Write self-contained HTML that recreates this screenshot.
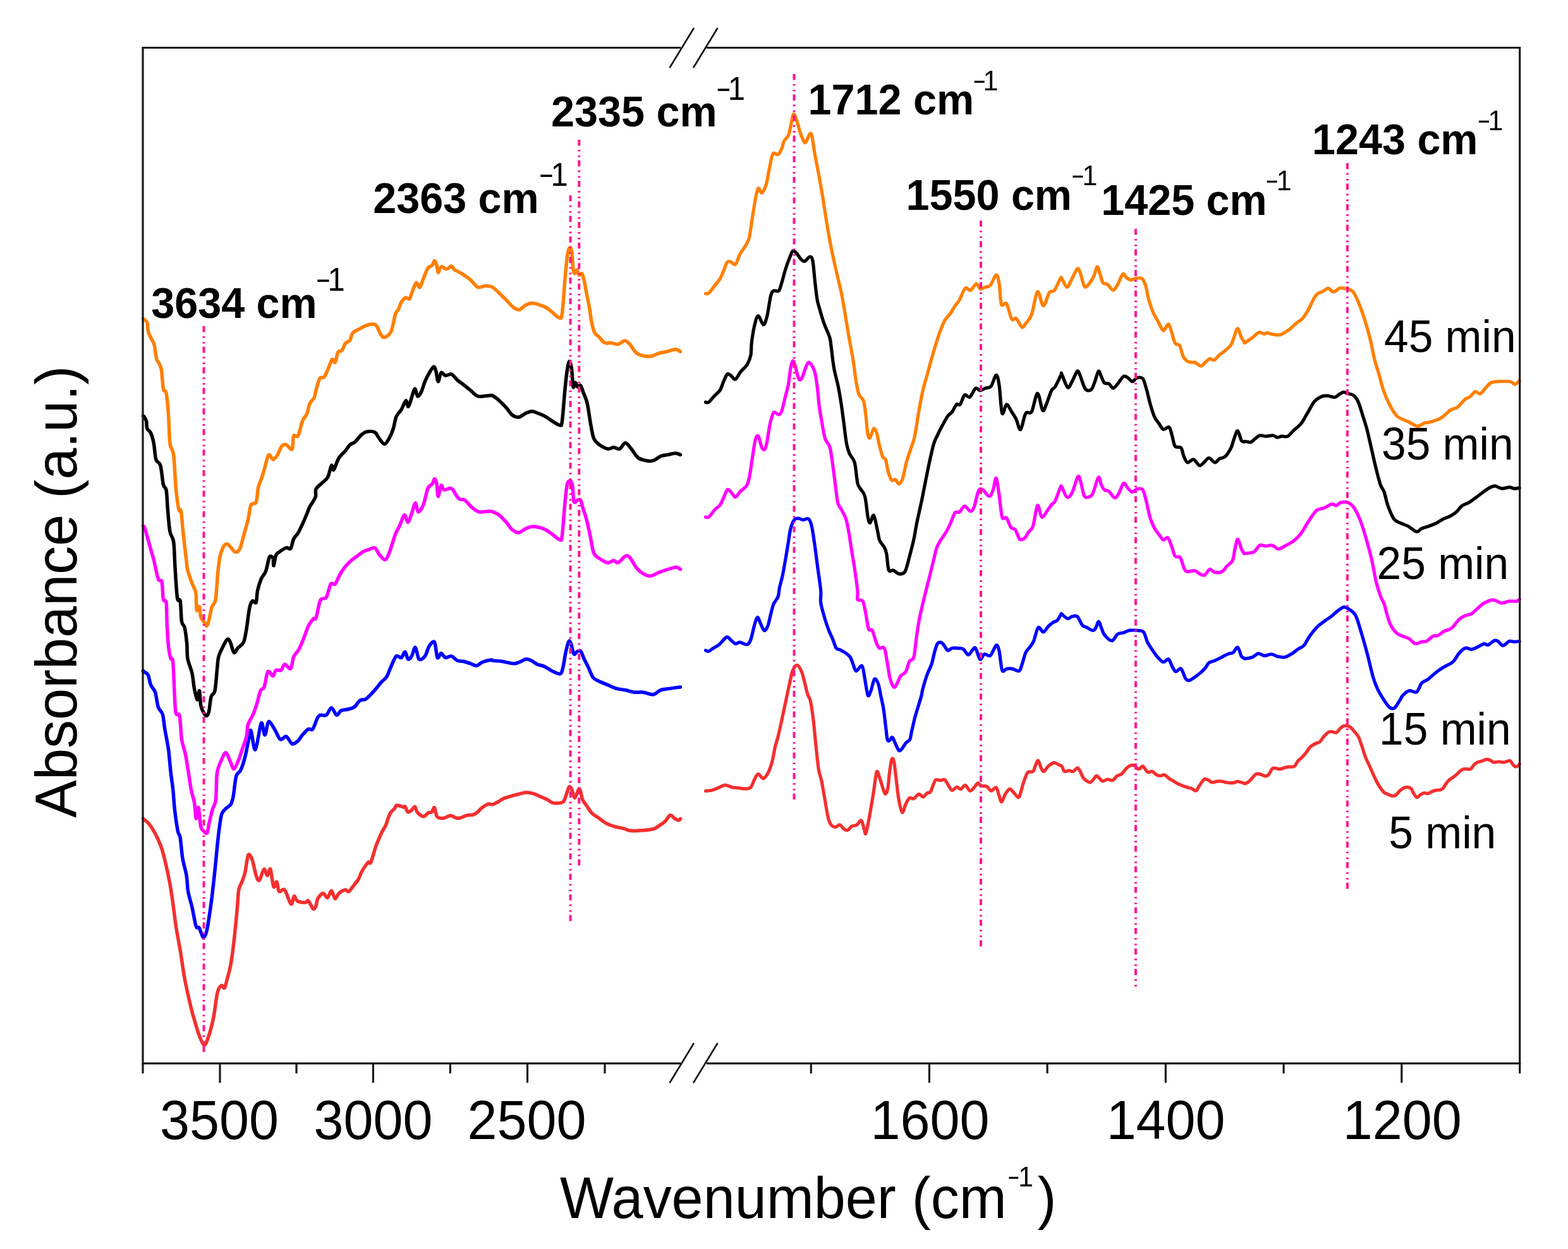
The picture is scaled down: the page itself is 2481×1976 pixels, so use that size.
<!DOCTYPE html><html><head><meta charset="utf-8"><style>html,body{margin:0;padding:0;background:#fefefe;overflow:hidden;}svg{display:block}</style></head><body>
<svg width="2481" height="1976" viewBox="0 0 2481 1976">
<rect width="2481" height="1976" fill="#fefefe"/>
<path d="M226.5,1295.0 C226.7,1295.2 226.1,1295.1 227.5,1296.3 C228.9,1297.5 232.2,1299.2 235.0,1302.6 C237.8,1306.0 241.8,1311.6 245.0,1317.6 C248.2,1323.6 252.5,1333.0 255.1,1340.2 C257.7,1347.4 259.1,1353.5 261.3,1362.7 C263.5,1371.9 266.8,1386.9 268.8,1397.7 C270.8,1408.5 272.2,1419.1 273.8,1430.3 C275.4,1441.5 277.0,1456.3 278.8,1467.9 C280.6,1479.5 282.9,1489.7 285.1,1502.9 C287.3,1516.1 289.8,1535.7 292.6,1550.5 C295.4,1565.3 300.0,1584.8 302.6,1595.6 C305.2,1606.4 306.9,1611.3 308.9,1618.1 C310.9,1624.9 313.0,1632.5 315.2,1638.1 C317.4,1643.7 320.5,1652.4 322.7,1653.2 C324.9,1654.0 326.5,1649.9 328.9,1643.1 C331.3,1636.3 335.3,1622.2 337.7,1610.6 C340.1,1599.0 342.0,1578.7 344.0,1570.5 C346.0,1562.3 348.4,1560.5 350.2,1559.3 C352.0,1558.1 353.8,1564.4 355.2,1563.0 C356.6,1561.6 357.4,1556.5 359.0,1550.5 C360.6,1544.5 363.4,1535.5 365.2,1525.5 C367.0,1515.5 368.7,1501.9 370.3,1487.9 C371.9,1473.9 374.1,1450.6 375.3,1437.8 C376.5,1425.0 376.6,1414.6 377.8,1407.8 C379.0,1401.0 381.2,1399.6 382.8,1395.2 C384.4,1390.8 386.2,1387.0 387.8,1380.2 C389.4,1373.4 391.0,1355.9 392.8,1352.7 C394.6,1349.5 397.0,1355.0 399.0,1360.2 C401.0,1365.4 403.5,1380.0 405.3,1385.2 C407.1,1390.4 408.3,1394.3 410.3,1392.7 C412.3,1391.1 415.8,1376.4 417.8,1375.2 C419.8,1374.0 421.2,1385.2 422.8,1385.2 C424.4,1385.2 426.2,1372.4 427.8,1375.2 C429.4,1378.0 431.3,1399.6 432.9,1402.8 C434.5,1406.0 436.5,1394.0 437.9,1395.2 C439.3,1396.4 439.6,1408.3 441.6,1410.3 C443.6,1412.3 447.4,1404.6 450.4,1407.8 C453.4,1411.0 458.0,1428.7 460.4,1430.3 C462.8,1431.9 463.8,1418.6 465.4,1417.8 C467.0,1417.0 467.6,1423.7 470.4,1425.3 C473.2,1426.9 480.1,1427.8 482.9,1427.8 C485.7,1427.8 486.0,1423.7 488.0,1425.3 C490.0,1426.9 493.6,1436.6 495.5,1437.8 C497.4,1439.0 498.8,1435.5 500.0,1432.9 C501.2,1430.3 501.0,1424.8 502.8,1421.7 C504.6,1418.6 508.7,1413.5 511.2,1413.3 C513.7,1413.1 516.1,1421.0 518.2,1420.3 C520.3,1419.6 522.6,1409.0 524.5,1409.2 C526.4,1409.4 528.2,1421.0 530.1,1421.7 C532.0,1422.4 533.7,1415.5 536.3,1413.3 C538.9,1411.1 543.6,1408.2 546.1,1407.8 C548.6,1407.4 549.7,1411.5 551.7,1410.6 C553.7,1409.7 556.2,1405.3 558.7,1402.2 C561.2,1399.1 564.9,1394.8 567.1,1391.0 C569.3,1387.2 570.2,1382.7 572.7,1378.4 C575.2,1374.1 580.3,1366.6 582.5,1364.4 C584.7,1362.2 584.7,1368.6 586.7,1364.4 C588.7,1360.2 592.4,1345.3 595.1,1337.9 C597.8,1330.5 601.0,1323.5 603.4,1318.3 C605.8,1313.1 608.6,1309.7 610.4,1305.7 C612.2,1301.7 613.3,1296.5 614.6,1293.1 C615.9,1289.7 617.2,1286.9 618.8,1284.7 C620.4,1282.5 623.1,1280.8 624.4,1279.1 C625.7,1277.4 625.9,1274.9 627.2,1274.2 C628.5,1273.5 631.0,1274.6 632.8,1275.0 C634.6,1275.4 637.1,1276.8 638.4,1277.0 C639.7,1277.2 640.1,1275.1 641.2,1276.3 C642.3,1277.5 643.8,1283.8 645.4,1284.7 C647.0,1285.6 649.2,1283.2 651.0,1281.9 C652.8,1280.6 655.1,1275.9 656.6,1276.3 C658.1,1276.7 658.0,1282.2 660.1,1284.7 C662.2,1287.2 667.1,1291.5 669.9,1291.7 C672.7,1291.9 675.4,1287.2 677.5,1286.1 C679.6,1285.0 681.5,1286.0 683.1,1284.7 C684.7,1283.4 686.0,1276.6 687.3,1277.7 C688.6,1278.8 689.3,1289.0 691.5,1291.7 C693.7,1294.4 697.9,1294.7 701.3,1294.5 C704.7,1294.3 709.6,1290.5 712.5,1290.3 C715.4,1290.1 717.3,1292.4 719.5,1293.1 C721.7,1293.8 723.6,1294.9 726.5,1294.5 C729.4,1294.1 734.1,1291.2 737.7,1290.3 C741.3,1289.4 745.9,1289.8 748.8,1288.9 C751.7,1288.0 753.6,1286.5 755.8,1284.7 C758.0,1282.9 760.1,1279.7 762.8,1277.7 C765.5,1275.7 769.8,1273.0 772.6,1272.2 C775.4,1271.4 777.5,1273.2 780.0,1272.6 C782.5,1272.0 785.6,1269.9 788.2,1268.5 C790.8,1267.1 793.4,1264.9 796.3,1263.6 C799.2,1262.3 802.7,1261.3 806.1,1260.3 C809.5,1259.3 813.3,1258.1 817.5,1257.1 C821.7,1256.1 828.0,1254.1 832.2,1253.8 C836.4,1253.5 840.0,1254.4 843.6,1255.4 C847.2,1256.4 851.4,1258.7 855.0,1260.3 C858.6,1261.9 863.3,1263.6 866.4,1265.2 C869.5,1266.8 871.2,1269.3 874.6,1270.1 C878.0,1270.9 884.7,1270.6 887.6,1270.1 C890.5,1269.6 891.1,1269.2 892.5,1266.8 C893.9,1264.4 895.3,1258.9 896.6,1255.4 C897.9,1251.9 899.4,1245.8 900.7,1244.8 C902.0,1243.8 903.4,1246.1 904.7,1248.9 C906.0,1251.7 907.6,1260.7 908.8,1262.0 C910.0,1263.3 910.9,1259.3 912.1,1257.1 C913.3,1254.9 915.1,1248.9 916.1,1248.1 C917.1,1247.3 917.7,1249.5 918.6,1252.2 C919.5,1254.9 920.2,1261.6 921.8,1265.2 C923.4,1268.8 926.0,1271.6 928.4,1275.0 C930.8,1278.4 933.4,1283.3 936.5,1286.4 C939.6,1289.5 944.3,1292.0 947.9,1294.6 C951.5,1297.2 955.4,1300.6 959.3,1302.7 C963.2,1304.8 968.0,1306.3 972.4,1307.6 C976.8,1308.9 983.2,1309.9 987.1,1310.9 C991.0,1311.9 992.9,1313.6 996.8,1314.1 C1000.7,1314.6 1005.8,1314.5 1011.5,1314.1 C1017.2,1313.7 1028.0,1312.7 1032.7,1311.7 C1037.4,1310.7 1037.8,1309.6 1040.9,1307.6 C1044.0,1305.6 1049.2,1302.4 1052.3,1299.5 C1055.4,1296.6 1058.0,1290.5 1060.4,1289.7 C1062.8,1288.9 1064.9,1293.3 1067.0,1294.6 C1069.1,1295.9 1072.0,1297.7 1073.5,1297.8 C1075.0,1297.9 1076.0,1295.9 1076.5,1295.5" fill="none" stroke="#f42f2f" stroke-width="5.5" stroke-linejoin="round" stroke-linecap="round"/>
<path d="M1116.5,1251.4 C1118.1,1251.2 1123.2,1251.0 1126.3,1250.3 C1129.4,1249.6 1132.2,1248.1 1135.6,1246.8 C1139.0,1245.5 1143.6,1242.3 1147.3,1242.1 C1151.0,1241.9 1155.2,1244.8 1158.9,1245.6 C1162.6,1246.4 1167.2,1246.4 1170.6,1246.8 C1174.0,1247.2 1177.1,1248.1 1179.9,1247.9 C1182.7,1247.7 1185.8,1248.0 1188.0,1245.6 C1190.2,1243.2 1192.0,1236.2 1193.9,1232.8 C1195.8,1229.4 1197.5,1224.8 1199.7,1224.6 C1201.9,1224.4 1205.2,1232.1 1207.8,1231.6 C1210.4,1231.1 1213.8,1225.5 1216.0,1221.2 C1218.2,1216.9 1220.1,1211.1 1221.8,1204.8 C1223.5,1198.5 1225.0,1187.9 1226.5,1181.6 C1228.0,1175.3 1229.4,1172.0 1231.1,1165.3 C1232.8,1158.6 1235.0,1148.2 1236.9,1139.6 C1238.8,1131.0 1240.7,1121.4 1242.8,1111.7 C1244.9,1102.0 1247.9,1087.3 1249.8,1079.1 C1251.7,1070.9 1252.5,1064.7 1254.4,1060.4 C1256.3,1056.1 1259.2,1051.9 1261.4,1052.3 C1263.6,1052.7 1266.5,1058.5 1268.4,1062.8 C1270.3,1067.1 1271.5,1073.5 1273.0,1079.1 C1274.5,1084.7 1276.2,1092.9 1277.7,1097.7 C1279.2,1102.5 1280.9,1102.7 1282.4,1109.4 C1283.9,1116.1 1285.7,1129.2 1287.0,1139.6 C1288.3,1150.0 1289.2,1162.3 1290.5,1174.6 C1291.8,1186.9 1293.7,1206.8 1295.2,1216.5 C1296.7,1226.2 1298.3,1228.0 1299.8,1235.1 C1301.3,1242.2 1302.8,1251.5 1304.5,1260.8 C1306.2,1270.1 1308.6,1286.3 1310.3,1293.4 C1312.0,1300.5 1313.1,1302.6 1315.0,1305.0 C1316.9,1307.4 1319.8,1308.5 1322.0,1308.5 C1324.2,1308.5 1326.7,1304.4 1328.9,1305.0 C1331.1,1305.6 1333.8,1310.7 1335.9,1312.0 C1338.0,1313.3 1339.9,1314.0 1341.8,1313.2 C1343.7,1312.4 1345.4,1308.6 1347.6,1307.3 C1349.8,1306.0 1353.3,1306.5 1355.7,1305.0 C1358.1,1303.5 1360.8,1296.9 1362.7,1298.0 C1364.6,1299.1 1366.3,1308.6 1367.4,1312.0 C1368.5,1315.4 1368.8,1320.1 1369.7,1319.0 C1370.6,1317.9 1371.9,1311.3 1373.2,1305.0 C1374.5,1298.7 1376.4,1288.0 1377.9,1279.4 C1379.4,1270.8 1381.0,1260.7 1382.5,1251.4 C1384.0,1242.1 1385.7,1224.5 1387.2,1221.2 C1388.7,1217.9 1390.1,1226.0 1391.8,1230.5 C1393.5,1235.0 1396.2,1245.0 1397.7,1249.1 C1399.2,1253.2 1400.0,1256.5 1401.2,1256.1 C1402.4,1255.7 1403.9,1252.2 1404.9,1246.8 C1405.9,1241.4 1406.5,1229.6 1407.5,1222.3 C1408.5,1215.0 1409.9,1204.1 1411.0,1201.3 C1412.1,1198.5 1413.4,1199.8 1414.5,1204.8 C1415.6,1209.8 1416.8,1223.0 1418.0,1232.8 C1419.2,1242.6 1420.8,1257.6 1422.3,1266.0 C1423.8,1274.4 1425.9,1284.1 1427.6,1285.2 C1429.3,1286.3 1431.0,1276.6 1432.8,1273.0 C1434.6,1269.4 1436.8,1264.0 1438.9,1262.5 C1441.0,1261.0 1443.5,1264.4 1445.9,1263.4 C1448.3,1262.4 1451.4,1256.8 1453.8,1256.4 C1456.2,1256.0 1458.7,1261.0 1460.8,1260.7 C1462.9,1260.4 1465.1,1255.8 1466.9,1254.6 C1468.7,1253.4 1470.4,1255.3 1472.1,1252.9 C1473.8,1250.5 1476.0,1242.9 1477.4,1239.8 C1478.8,1236.7 1479.2,1234.5 1480.9,1233.7 C1482.6,1232.9 1485.6,1234.5 1487.8,1234.5 C1490.0,1234.5 1492.8,1232.6 1494.8,1233.7 C1496.8,1234.8 1498.3,1238.8 1500.1,1241.5 C1501.9,1244.2 1504.0,1249.7 1506.2,1250.3 C1508.4,1250.9 1511.9,1245.3 1514.1,1245.0 C1516.3,1244.7 1518.1,1248.9 1520.2,1248.5 C1522.3,1248.1 1524.8,1242.0 1527.2,1242.4 C1529.6,1242.8 1532.6,1250.7 1535.0,1251.1 C1537.4,1251.5 1540.0,1247.0 1542.0,1245.0 C1544.0,1243.0 1545.6,1239.2 1547.3,1238.9 C1549.0,1238.6 1550.3,1242.5 1552.5,1243.3 C1554.7,1244.1 1558.7,1242.9 1561.2,1244.1 C1563.7,1245.3 1565.8,1250.8 1568.2,1251.1 C1570.6,1251.4 1574.1,1244.9 1576.1,1245.9 C1578.1,1246.9 1579.0,1253.7 1580.4,1257.3 C1581.8,1260.9 1583.2,1268.6 1584.8,1268.6 C1586.4,1268.6 1588.1,1260.5 1590.1,1257.3 C1592.1,1254.1 1594.9,1249.1 1597.1,1248.5 C1599.3,1247.9 1601.8,1251.7 1604.0,1253.8 C1606.2,1255.9 1609.3,1261.3 1611.0,1261.6 C1612.7,1261.9 1613.2,1259.0 1614.5,1255.5 C1615.8,1252.0 1617.1,1245.1 1618.9,1239.8 C1620.7,1234.5 1623.4,1225.4 1625.9,1222.3 C1628.4,1219.2 1632.6,1222.3 1634.6,1220.6 C1636.6,1218.9 1636.8,1214.6 1638.1,1211.8 C1639.4,1209.0 1641.1,1202.8 1642.5,1203.1 C1643.9,1203.4 1645.4,1210.8 1646.8,1213.6 C1648.2,1216.4 1649.2,1220.9 1651.2,1220.6 C1653.2,1220.3 1656.4,1214.0 1659.1,1211.8 C1661.8,1209.6 1665.1,1206.9 1667.8,1206.6 C1670.5,1206.3 1673.7,1209.2 1675.7,1210.1 C1677.7,1211.0 1678.6,1210.5 1680.0,1212.1 C1681.4,1213.7 1682.4,1219.3 1684.2,1220.4 C1686.0,1221.5 1688.9,1219.1 1691.1,1219.1 C1693.3,1219.1 1695.9,1221.1 1698.1,1220.4 C1700.3,1219.7 1703.2,1214.9 1705.0,1214.9 C1706.8,1214.9 1707.6,1217.7 1709.2,1220.4 C1710.8,1223.1 1712.4,1228.8 1714.8,1231.6 C1717.2,1234.4 1722.1,1237.6 1724.5,1237.8 C1726.9,1238.0 1728.4,1234.7 1730.1,1233.0 C1731.8,1231.3 1733.4,1227.6 1735.0,1227.4 C1736.6,1227.2 1738.2,1230.3 1739.8,1231.6 C1741.4,1232.9 1742.7,1235.6 1744.7,1235.8 C1746.7,1236.0 1749.8,1233.2 1752.4,1233.0 C1755.0,1232.8 1758.3,1235.3 1760.7,1234.4 C1763.1,1233.5 1765.5,1229.0 1767.7,1227.4 C1769.9,1225.8 1772.2,1226.6 1774.6,1224.6 C1777.0,1222.6 1780.6,1217.1 1783.0,1214.9 C1785.4,1212.7 1787.9,1211.3 1789.9,1210.7 C1791.9,1210.1 1793.9,1210.5 1795.5,1211.4 C1797.1,1212.3 1798.4,1215.6 1799.7,1216.3 C1801.0,1217.0 1802.5,1216.3 1803.8,1215.6 C1805.1,1214.9 1806.7,1211.9 1808.0,1212.1 C1809.3,1212.3 1810.9,1215.4 1812.2,1217.0 C1813.5,1218.6 1814.6,1221.3 1816.4,1221.8 C1818.2,1222.3 1821.1,1219.7 1823.3,1220.4 C1825.5,1221.1 1828.3,1224.9 1830.3,1226.0 C1832.3,1227.1 1833.8,1227.4 1835.8,1227.4 C1837.8,1227.4 1840.6,1225.3 1842.8,1226.0 C1845.0,1226.7 1847.6,1230.0 1849.8,1231.6 C1852.0,1233.2 1854.5,1234.5 1856.7,1235.8 C1858.9,1237.1 1861.3,1238.7 1863.7,1239.9 C1866.1,1241.1 1869.3,1242.4 1872.0,1243.4 C1874.7,1244.4 1878.2,1245.5 1880.4,1246.2 C1882.6,1246.9 1884.0,1246.8 1885.9,1247.6 C1887.8,1248.4 1890.4,1251.7 1892.2,1251.1 C1894.0,1250.5 1895.4,1246.5 1897.1,1244.1 C1898.8,1241.7 1901.0,1237.7 1902.6,1235.8 C1904.2,1233.9 1905.2,1232.5 1906.8,1232.3 C1908.4,1232.1 1910.6,1233.5 1912.4,1234.4 C1914.2,1235.3 1915.9,1237.5 1917.9,1237.8 C1919.9,1238.1 1922.9,1236.7 1924.9,1236.4 C1926.9,1236.1 1928.5,1235.7 1930.5,1235.8 C1932.5,1235.9 1935.2,1236.7 1937.4,1237.1 C1939.6,1237.5 1942.2,1238.3 1944.4,1238.5 C1946.6,1238.7 1949.1,1238.8 1951.3,1238.5 C1953.5,1238.2 1955.9,1236.4 1958.3,1236.4 C1960.7,1236.4 1964.7,1238.0 1966.6,1238.5 C1968.5,1239.0 1968.6,1240.0 1970.0,1239.7 C1971.4,1239.4 1973.8,1238.2 1975.6,1236.9 C1977.4,1235.6 1979.3,1233.2 1981.1,1231.3 C1982.9,1229.4 1984.9,1226.2 1986.7,1225.1 C1988.5,1224.0 1989.9,1224.0 1992.3,1224.4 C1994.7,1224.8 1999.6,1227.7 2002.0,1227.8 C2004.4,1227.9 2005.8,1227.0 2007.6,1225.1 C2009.4,1223.2 2011.5,1217.6 2013.1,1216.0 C2014.7,1214.4 2015.3,1215.2 2017.3,1215.3 C2019.3,1215.4 2023.3,1216.8 2025.7,1216.7 C2028.1,1216.6 2030.4,1215.2 2032.6,1214.6 C2034.8,1214.0 2037.2,1213.5 2039.6,1213.2 C2042.0,1212.9 2045.7,1213.9 2047.9,1212.5 C2050.1,1211.1 2051.5,1206.5 2053.5,1204.2 C2055.5,1201.9 2058.2,1200.2 2060.4,1197.9 C2062.6,1195.6 2065.4,1192.2 2067.4,1189.6 C2069.4,1187.0 2070.8,1184.0 2073.0,1181.9 C2075.2,1179.8 2078.9,1177.7 2081.3,1176.4 C2083.7,1175.1 2086.1,1175.5 2088.3,1173.6 C2090.5,1171.7 2093.0,1166.9 2095.2,1164.5 C2097.4,1162.1 2100.2,1159.4 2102.2,1158.3 C2104.2,1157.2 2105.8,1157.5 2107.8,1157.6 C2109.8,1157.7 2112.7,1159.8 2114.7,1159.0 C2116.7,1158.2 2118.5,1154.4 2120.3,1152.7 C2122.1,1151.0 2123.9,1149.2 2125.8,1148.5 C2127.7,1147.8 2130.3,1148.2 2132.1,1148.5 C2133.9,1148.8 2135.3,1149.3 2137.0,1150.6 C2138.7,1151.9 2140.5,1154.5 2142.5,1156.9 C2144.5,1159.3 2147.5,1162.0 2149.5,1165.9 C2151.5,1169.8 2153.3,1176.1 2155.1,1181.2 C2156.9,1186.3 2158.6,1192.8 2160.6,1197.9 C2162.6,1203.0 2165.4,1208.3 2167.6,1213.2 C2169.8,1218.1 2172.3,1223.8 2174.5,1228.5 C2176.7,1233.2 2179.1,1238.4 2181.5,1242.4 C2183.9,1246.4 2187.5,1251.3 2189.8,1253.6 C2192.1,1255.9 2194.1,1255.6 2196.1,1256.5 C2198.1,1257.4 2200.2,1258.8 2202.2,1259.1 C2204.2,1259.4 2206.4,1259.3 2208.4,1258.1 C2210.4,1256.9 2212.5,1253.2 2214.5,1251.4 C2216.5,1249.6 2218.6,1247.8 2220.6,1246.8 C2222.6,1245.8 2224.7,1245.1 2226.7,1245.3 C2228.7,1245.5 2231.3,1246.3 2232.9,1247.9 C2234.5,1249.5 2235.4,1253.3 2236.9,1255.5 C2238.4,1257.7 2240.4,1261.3 2242.0,1261.6 C2243.6,1261.9 2245.3,1258.7 2247.1,1257.6 C2248.9,1256.5 2251.3,1254.8 2253.3,1254.5 C2255.3,1254.2 2257.4,1255.8 2259.4,1255.5 C2261.4,1255.2 2263.5,1253.2 2265.5,1252.4 C2267.5,1251.6 2269.3,1250.9 2271.6,1250.4 C2273.9,1249.9 2277.8,1250.1 2279.8,1249.4 C2281.8,1248.7 2282.3,1248.3 2283.9,1246.3 C2285.5,1244.3 2288.4,1239.2 2290.0,1237.1 C2291.6,1235.0 2292.5,1234.4 2294.1,1233.1 C2295.7,1231.8 2298.4,1230.3 2300.2,1229.0 C2302.0,1227.7 2303.7,1226.4 2305.3,1224.9 C2306.9,1223.4 2308.8,1221.1 2310.4,1219.8 C2312.0,1218.5 2313.9,1217.2 2315.5,1216.7 C2317.1,1216.2 2318.8,1216.7 2320.6,1216.7 C2322.4,1216.7 2324.9,1217.7 2326.7,1216.7 C2328.5,1215.7 2330.2,1212.2 2331.8,1210.6 C2333.4,1209.0 2334.8,1207.6 2336.9,1206.5 C2339.0,1205.4 2342.7,1204.8 2345.1,1204.0 C2347.5,1203.2 2350.1,1201.6 2352.2,1201.4 C2354.3,1201.2 2356.6,1202.3 2358.4,1203.0 C2360.2,1203.7 2361.4,1205.7 2363.5,1206.0 C2365.6,1206.3 2369.0,1205.0 2371.6,1205.0 C2374.2,1205.0 2377.0,1206.2 2379.8,1206.0 C2382.6,1205.8 2386.9,1203.1 2389.0,1203.5 C2391.1,1203.9 2391.8,1207.1 2393.1,1208.6 C2394.4,1210.1 2395.6,1212.2 2397.1,1212.7 C2398.6,1213.2 2401.1,1212.3 2402.2,1211.6 C2403.3,1210.9 2403.9,1209.1 2404.2,1208.6" fill="none" stroke="#f42f2f" stroke-width="5.2" stroke-linejoin="round" stroke-linecap="round"/>
<path d="M226.5,1061.0 C226.6,1061.3 225.8,1061.6 227.0,1062.6 C228.2,1063.6 232.1,1063.9 234.0,1067.3 C235.9,1070.7 236.7,1079.1 238.6,1083.6 C240.5,1088.1 243.7,1089.6 245.6,1095.2 C247.5,1100.8 248.4,1112.9 250.3,1118.5 C252.2,1124.1 255.6,1124.6 257.3,1130.2 C259.0,1135.8 259.3,1144.6 260.8,1153.5 C262.3,1162.4 265.1,1175.3 266.6,1186.1 C268.1,1196.9 268.9,1210.8 270.1,1221.0 C271.3,1231.2 272.8,1240.6 273.8,1250.0 C274.8,1259.4 275.1,1269.6 276.3,1280.0 C277.5,1290.4 280.0,1307.9 281.4,1315.1 C282.8,1322.3 283.9,1318.3 285.1,1325.1 C286.3,1331.9 287.3,1348.1 288.9,1357.7 C290.5,1367.3 293.7,1376.8 295.1,1385.2 C296.5,1393.6 296.2,1402.3 297.6,1410.3 C299.0,1418.3 301.9,1426.5 303.9,1435.3 C305.9,1444.1 308.4,1460.2 310.2,1465.4 C312.0,1470.6 313.4,1465.1 315.2,1467.9 C317.0,1470.7 319.6,1481.7 321.4,1482.9 C323.2,1484.1 325.0,1479.8 326.4,1475.4 C327.8,1471.0 328.8,1464.1 330.2,1455.3 C331.6,1446.5 333.6,1433.1 335.2,1420.3 C336.8,1407.5 338.6,1390.4 340.2,1375.2 C341.8,1360.0 343.6,1338.7 345.2,1325.1 C346.8,1311.5 348.4,1297.3 350.2,1290.1 C352.0,1282.9 354.1,1282.8 356.5,1280.0 C358.9,1277.2 363.2,1275.7 365.2,1272.5 C367.2,1269.3 367.7,1267.1 369.1,1260.0 C370.5,1252.9 371.8,1234.6 373.7,1228.0 C375.6,1221.4 378.5,1223.5 380.7,1218.7 C382.9,1213.9 385.7,1205.5 387.7,1197.7 C389.7,1189.9 392.0,1176.5 393.5,1169.8 C395.0,1163.1 395.3,1153.2 397.0,1155.8 C398.7,1158.4 401.4,1188.0 404.0,1186.1 C406.6,1184.2 410.9,1147.9 413.3,1144.2 C415.7,1140.5 417.2,1163.2 419.1,1162.8 C421.0,1162.4 422.6,1143.3 425.0,1141.8 C427.4,1140.3 431.3,1149.0 434.3,1153.5 C437.3,1158.0 440.6,1167.9 443.6,1169.8 C446.6,1171.7 449.9,1164.0 452.9,1165.1 C455.9,1166.2 459.2,1175.7 462.2,1176.8 C465.2,1177.9 469.0,1174.3 471.6,1172.1 C474.2,1169.9 475.9,1165.8 478.5,1162.8 C481.1,1159.8 485.3,1155.0 487.9,1153.5 C490.5,1152.0 492.5,1156.3 494.8,1153.5 C497.1,1150.7 500.3,1139.6 502.3,1136.0 C504.3,1132.4 504.8,1132.1 507.0,1131.3 C509.2,1130.5 513.5,1133.2 516.3,1131.3 C519.1,1129.4 521.9,1119.7 524.5,1119.7 C527.1,1119.7 530.2,1130.6 532.6,1131.3 C535.0,1132.0 536.6,1125.8 539.6,1124.3 C542.6,1122.8 547.8,1122.9 551.2,1122.0 C554.6,1121.1 557.6,1120.7 560.6,1118.5 C563.6,1116.3 566.9,1110.0 569.9,1108.0 C572.9,1106.0 575.5,1108.3 579.2,1105.7 C582.9,1103.1 589.5,1095.8 593.2,1091.7 C596.9,1087.6 599.5,1083.5 602.5,1080.1 C605.5,1076.7 609.2,1074.8 611.8,1070.7 C614.4,1066.6 616.4,1059.6 618.8,1054.4 C621.2,1049.2 624.3,1040.3 626.9,1038.1 C629.5,1035.9 632.9,1041.6 635.1,1040.5 C637.3,1039.4 639.2,1030.8 640.9,1031.2 C642.6,1031.6 643.9,1041.7 645.6,1042.8 C647.3,1043.9 649.5,1041.1 651.4,1038.1 C653.3,1035.1 655.3,1023.4 657.2,1024.2 C659.1,1025.0 660.6,1040.6 663.0,1042.8 C665.4,1045.0 669.8,1041.5 672.4,1038.1 C675.0,1034.7 677.0,1025.3 679.4,1021.8 C681.8,1018.3 685.5,1013.0 687.5,1016.0 C689.5,1019.0 690.5,1037.7 692.2,1040.5 C693.9,1043.3 696.0,1033.5 698.0,1033.5 C700.0,1033.5 702.4,1039.8 705.0,1040.5 C707.6,1041.2 711.3,1037.4 714.3,1038.1 C717.3,1038.8 720.6,1043.8 723.6,1045.1 C726.6,1046.4 729.5,1045.5 732.9,1046.3 C736.3,1047.1 741.2,1048.7 744.6,1049.8 C748.0,1050.9 750.9,1053.7 753.9,1053.3 C756.9,1052.9 759.5,1049.0 763.2,1047.5 C766.9,1046.0 774.5,1044.4 777.2,1044.0 C779.9,1043.6 777.3,1044.7 780.0,1045.1 C782.7,1045.5 788.8,1045.5 794.0,1046.3 C799.2,1047.1 808.1,1049.6 812.6,1049.8 C817.1,1050.0 818.7,1048.6 821.9,1047.5 C825.1,1046.4 829.4,1043.2 832.4,1042.8 C835.4,1042.4 837.8,1043.8 840.6,1045.1 C843.4,1046.4 846.6,1049.4 849.9,1050.9 C853.2,1052.4 857.8,1052.7 861.5,1054.4 C865.2,1056.1 869.3,1059.5 873.2,1061.4 C877.1,1063.3 883.2,1066.8 886.0,1066.1 C888.8,1065.4 889.1,1062.4 890.6,1056.8 C892.1,1051.2 893.8,1037.9 895.3,1031.2 C896.8,1024.5 898.7,1016.9 900.0,1014.8 C901.3,1012.7 902.1,1015.1 903.4,1018.3 C904.7,1021.5 906.6,1032.5 908.1,1034.6 C909.6,1036.7 911.1,1031.9 912.8,1031.2 C914.5,1030.5 916.7,1028.1 918.6,1030.0 C920.5,1031.9 922.4,1038.5 924.4,1042.8 C926.4,1047.1 929.2,1052.1 931.4,1056.8 C933.6,1061.5 935.8,1068.6 938.4,1071.9 C941.0,1075.2 944.0,1075.8 947.7,1077.7 C951.4,1079.6 957.2,1081.7 961.7,1083.6 C966.2,1085.5 971.2,1088.1 975.7,1089.4 C980.2,1090.7 985.1,1090.8 989.6,1091.7 C994.1,1092.6 999.1,1094.6 1003.6,1095.2 C1008.1,1095.8 1012.8,1094.6 1017.6,1095.2 C1022.4,1095.8 1029.4,1099.3 1033.9,1098.7 C1038.4,1098.1 1041.4,1093.2 1045.5,1091.7 C1049.6,1090.2 1054.5,1090.2 1059.5,1089.4 C1064.5,1088.6 1073.8,1087.4 1076.5,1087.0" fill="none" stroke="#0000ff" stroke-width="5.5" stroke-linejoin="round" stroke-linecap="round"/>
<path d="M1116.5,1029.0 C1117.3,1029.2 1119.7,1030.8 1121.6,1030.2 C1123.5,1029.6 1126.0,1027.2 1128.6,1025.5 C1131.2,1023.8 1134.6,1022.5 1138.0,1019.7 C1141.4,1016.9 1146.6,1009.1 1149.6,1008.0 C1152.6,1006.9 1154.4,1011.0 1156.6,1012.7 C1158.8,1014.4 1161.4,1017.9 1163.6,1018.5 C1165.8,1019.1 1167.6,1016.0 1170.6,1016.2 C1173.6,1016.4 1179.4,1020.5 1182.2,1019.7 C1185.0,1018.9 1186.1,1016.5 1188.0,1011.5 C1189.9,1006.5 1192.2,993.8 1193.9,988.2 C1195.6,982.6 1197.0,977.0 1198.5,976.6 C1200.0,976.2 1201.5,982.6 1203.2,985.9 C1204.9,989.2 1207.1,996.7 1209.0,997.5 C1210.9,998.3 1213.1,994.7 1214.8,990.6 C1216.5,986.5 1218.0,977.5 1219.5,971.9 C1221.0,966.3 1222.2,960.1 1224.1,955.6 C1226.0,951.1 1229.6,948.1 1231.1,944.0 C1232.6,939.9 1232.3,935.0 1233.4,929.7 C1234.5,924.4 1236.6,918.1 1238.1,911.0 C1239.6,903.9 1241.3,894.0 1242.8,885.4 C1244.3,876.8 1246.1,865.3 1247.4,857.5 C1248.7,849.7 1249.4,842.1 1250.9,836.5 C1252.4,830.9 1254.7,825.1 1256.7,822.5 C1258.7,819.9 1261.5,820.2 1263.7,820.2 C1265.9,820.2 1269.0,822.3 1270.7,822.5 C1272.4,822.7 1272.7,821.6 1274.2,821.4 C1275.7,821.2 1278.3,819.4 1280.0,821.4 C1281.7,823.4 1283.2,827.3 1284.7,834.2 C1286.2,841.1 1287.9,854.0 1289.4,864.4 C1290.9,874.8 1292.5,888.2 1294.0,899.4 C1295.5,910.6 1297.9,925.7 1298.7,934.3 C1299.5,942.9 1297.8,946.5 1298.7,953.3 C1299.6,960.1 1302.5,969.5 1304.5,976.6 C1306.5,983.7 1309.5,992.1 1311.5,997.5 C1313.5,1002.9 1315.4,1005.9 1317.3,1010.4 C1319.2,1014.9 1321.2,1022.7 1323.1,1025.5 C1325.0,1028.3 1326.7,1026.7 1328.9,1027.8 C1331.1,1028.9 1334.5,1030.6 1337.1,1032.5 C1339.7,1034.4 1343.2,1036.5 1345.2,1039.5 C1347.2,1042.5 1348.4,1047.6 1349.9,1051.1 C1351.4,1054.6 1352.4,1061.2 1354.6,1061.6 C1356.8,1062.0 1361.7,1051.4 1363.9,1053.4 C1366.1,1055.4 1367.0,1066.9 1368.5,1074.4 C1370.0,1081.9 1371.7,1097.0 1373.2,1100.0 C1374.7,1103.0 1376.2,1097.1 1377.9,1093.0 C1379.6,1088.9 1381.8,1076.3 1383.7,1074.4 C1385.6,1072.5 1387.9,1077.3 1389.5,1081.4 C1391.1,1085.5 1392.2,1093.7 1393.5,1100.0 C1394.8,1106.3 1396.6,1113.2 1397.9,1121.0 C1399.2,1128.8 1400.4,1141.1 1401.4,1148.9 C1402.4,1156.7 1403.0,1166.3 1404.0,1169.9 C1405.0,1173.5 1406.3,1172.2 1407.5,1171.6 C1408.7,1171.0 1410.4,1165.8 1411.8,1166.4 C1413.2,1167.0 1414.5,1171.7 1416.2,1175.1 C1417.9,1178.5 1420.5,1186.0 1422.3,1187.4 C1424.1,1188.8 1425.8,1185.9 1427.6,1183.9 C1429.4,1181.9 1431.7,1177.3 1433.7,1175.1 C1435.7,1172.9 1438.4,1172.7 1439.8,1169.9 C1441.2,1167.1 1441.1,1163.3 1442.4,1157.7 C1443.7,1152.1 1446.0,1141.3 1447.7,1134.9 C1449.4,1128.5 1451.2,1123.1 1452.9,1117.5 C1454.6,1111.9 1457.0,1104.3 1458.1,1100.0 C1459.2,1095.7 1458.5,1095.9 1459.9,1090.7 C1461.3,1085.5 1464.7,1073.8 1466.9,1067.5 C1469.1,1061.2 1472.0,1056.7 1473.9,1051.1 C1475.8,1045.5 1477.0,1037.7 1478.5,1032.5 C1480.0,1027.3 1481.5,1021.1 1483.2,1018.5 C1484.9,1015.9 1487.3,1015.8 1489.0,1016.2 C1490.7,1016.6 1492.0,1018.9 1493.7,1020.9 C1495.4,1022.9 1497.5,1028.3 1499.5,1029.0 C1501.5,1029.7 1503.9,1026.1 1506.5,1025.5 C1509.1,1024.9 1513.0,1025.3 1515.8,1025.5 C1518.6,1025.7 1521.3,1025.0 1523.9,1026.7 C1526.5,1028.4 1529.7,1035.8 1532.1,1036.0 C1534.5,1036.2 1537.2,1029.6 1539.1,1027.9 C1541.0,1026.2 1541.8,1023.1 1543.7,1025.5 C1545.6,1027.9 1548.5,1041.5 1550.7,1043.0 C1552.9,1044.5 1555.1,1035.7 1557.7,1034.8 C1560.3,1033.9 1564.0,1039.4 1567.0,1037.2 C1570.0,1035.0 1574.1,1022.0 1576.3,1020.9 C1578.5,1019.8 1579.5,1023.9 1581.0,1030.2 C1582.5,1036.5 1583.8,1056.0 1585.7,1060.5 C1587.6,1065.0 1590.0,1058.5 1592.6,1058.1 C1595.2,1057.7 1598.8,1057.5 1602.0,1058.1 C1605.2,1058.7 1610.0,1062.7 1612.4,1061.6 C1614.8,1060.5 1615.4,1055.8 1617.1,1051.1 C1618.8,1046.4 1620.9,1037.0 1622.9,1032.5 C1624.9,1028.0 1627.9,1026.2 1629.9,1023.2 C1631.9,1020.2 1633.7,1018.7 1635.7,1013.9 C1637.7,1009.1 1640.3,995.1 1642.7,992.9 C1645.1,990.7 1648.3,1000.3 1650.9,999.9 C1653.5,999.5 1656.6,993.0 1659.0,990.6 C1661.4,988.2 1663.8,986.3 1666.0,984.8 C1668.2,983.3 1671.0,983.3 1673.0,981.3 C1675.0,979.3 1677.7,973.5 1678.8,972.0 C1679.9,970.5 1678.3,970.7 1680.0,971.8 C1681.7,972.9 1686.7,978.1 1689.3,978.7 C1691.9,979.3 1693.9,975.8 1696.3,975.3 C1698.7,974.8 1701.9,973.1 1704.5,975.3 C1707.1,977.5 1710.2,986.4 1712.6,989.2 C1715.0,992.0 1717.0,991.4 1719.6,992.7 C1722.2,994.0 1726.7,997.2 1728.9,997.4 C1731.1,997.6 1732.1,996.1 1733.6,993.9 C1735.1,991.7 1736.7,983.4 1738.2,983.4 C1739.7,983.4 1741.4,990.5 1742.9,993.9 C1744.4,997.3 1744.9,1001.2 1747.5,1004.4 C1750.1,1007.6 1755.8,1013.9 1759.2,1013.7 C1762.6,1013.5 1765.5,1005.2 1768.5,1003.2 C1771.5,1001.2 1774.8,1001.8 1777.8,1000.9 C1780.8,1000.0 1783.7,998.0 1787.1,997.4 C1790.5,996.8 1795.2,997.0 1798.8,997.4 C1802.4,997.8 1806.7,996.9 1809.3,999.7 C1811.9,1002.5 1813.1,1010.5 1815.1,1014.8 C1817.1,1019.1 1819.5,1022.6 1822.1,1026.5 C1824.7,1030.4 1828.4,1035.9 1831.4,1039.3 C1834.4,1042.7 1837.9,1046.9 1840.7,1047.5 C1843.5,1048.1 1846.7,1041.7 1848.9,1042.8 C1851.1,1043.9 1852.8,1051.2 1854.7,1054.4 C1856.6,1057.6 1858.3,1062.0 1860.5,1062.6 C1862.7,1063.2 1866.3,1056.2 1868.7,1057.9 C1871.1,1059.6 1873.7,1070.1 1875.7,1073.1 C1877.7,1076.1 1879.3,1076.8 1881.5,1076.6 C1883.7,1076.4 1886.8,1073.8 1889.6,1071.9 C1892.4,1070.0 1896.1,1067.3 1898.9,1064.9 C1901.7,1062.5 1904.9,1059.4 1907.1,1056.8 C1909.3,1054.2 1910.5,1050.5 1912.9,1048.6 C1915.3,1046.7 1919.2,1046.4 1922.2,1045.1 C1925.2,1043.8 1928.2,1042.2 1931.6,1040.5 C1935.0,1038.8 1940.0,1035.9 1943.2,1034.6 C1946.4,1033.3 1948.9,1034.0 1951.3,1032.3 C1953.7,1030.6 1956.2,1023.3 1958.3,1024.2 C1960.4,1025.1 1962.6,1035.4 1964.2,1038.1 C1965.8,1040.8 1967.1,1040.4 1968.0,1041.0 C1968.9,1041.6 1967.8,1042.2 1970.0,1042.0 C1972.2,1041.8 1978.2,1041.0 1981.6,1039.7 C1985.0,1038.4 1988.0,1034.3 1991.0,1033.9 C1994.0,1033.5 1997.0,1037.2 2000.3,1037.4 C2003.6,1037.6 2008.6,1034.8 2011.9,1035.0 C2015.2,1035.2 2017.8,1037.7 2021.2,1038.5 C2024.6,1039.3 2029.2,1040.4 2032.9,1039.7 C2036.6,1039.0 2041.1,1035.9 2044.5,1033.9 C2047.9,1031.9 2050.9,1028.9 2053.9,1026.9 C2056.9,1024.9 2060.2,1024.5 2063.2,1021.1 C2066.2,1017.7 2069.2,1010.6 2072.5,1005.9 C2075.8,1001.2 2080.4,995.7 2084.1,992.0 C2087.8,988.3 2092.1,985.4 2095.8,982.6 C2099.5,979.8 2104.1,977.1 2107.4,974.5 C2110.7,971.9 2113.7,968.5 2116.7,966.3 C2119.7,964.1 2123.5,961.1 2126.1,960.5 C2128.7,959.9 2130.0,960.8 2133.0,962.8 C2136.0,964.8 2141.3,967.1 2144.7,973.3 C2148.1,979.5 2151.0,991.6 2154.0,1001.3 C2157.0,1011.0 2160.3,1022.7 2163.3,1033.9 C2166.3,1045.1 2170.0,1062.3 2172.6,1071.2 C2175.2,1080.1 2177.0,1084.2 2179.6,1089.8 C2182.2,1095.4 2185.9,1101.4 2188.9,1106.1 C2191.9,1110.8 2195.5,1116.7 2198.3,1118.9 C2201.1,1121.1 2203.8,1121.8 2206.4,1120.1 C2209.0,1118.4 2212.5,1111.6 2214.6,1108.4 C2216.7,1105.2 2217.3,1102.5 2219.7,1100.0 C2222.1,1097.5 2226.1,1093.5 2229.6,1092.7 C2233.1,1091.9 2238.3,1096.6 2241.5,1094.7 C2244.7,1092.8 2246.6,1084.0 2249.4,1080.8 C2252.2,1077.6 2255.5,1077.7 2259.3,1074.9 C2263.1,1072.1 2269.1,1066.2 2273.2,1063.0 C2277.3,1059.8 2280.9,1057.5 2285.0,1055.0 C2289.1,1052.5 2295.1,1050.6 2298.9,1047.1 C2302.7,1043.6 2305.6,1036.8 2308.8,1033.3 C2312.0,1029.8 2315.5,1026.3 2318.7,1025.3 C2321.9,1024.3 2325.4,1027.6 2328.6,1027.3 C2331.8,1027.0 2335.3,1024.8 2338.5,1023.4 C2341.7,1022.0 2345.9,1018.9 2348.4,1018.4 C2350.9,1017.9 2351.9,1021.2 2354.4,1020.4 C2356.9,1019.6 2361.8,1014.4 2364.3,1013.5 C2366.8,1012.6 2368.0,1013.2 2370.2,1014.5 C2372.4,1015.8 2375.3,1021.4 2378.1,1021.4 C2380.9,1021.4 2385.2,1015.5 2388.0,1014.5 C2390.8,1013.5 2393.3,1015.4 2395.9,1015.4 C2398.5,1015.4 2402.9,1014.6 2404.2,1014.5" fill="none" stroke="#0000ff" stroke-width="5.2" stroke-linejoin="round" stroke-linecap="round"/>
<path d="M226.5,832.0 C226.9,832.7 227.4,830.4 229.3,836.4 C231.2,842.4 236.4,861.4 238.6,869.3 C240.8,877.2 241.4,878.1 243.3,885.6 C245.2,893.1 248.3,910.3 250.3,915.9 C252.3,921.5 254.8,915.4 256.1,920.6 C257.4,925.8 257.3,943.3 258.4,948.5 C259.5,953.7 262.2,946.9 263.1,953.2 C264.0,959.5 263.7,976.9 264.3,988.1 C264.9,999.3 265.7,1014.4 266.6,1023.0 C267.5,1031.6 269.0,1038.0 270.1,1041.7 C271.2,1045.4 272.7,1038.1 273.6,1046.3 C274.5,1054.5 275.2,1079.8 275.9,1092.9 C276.6,1106.0 276.9,1121.6 278.2,1127.9 C279.5,1134.2 282.6,1125.8 284.1,1132.5 C285.6,1139.2 286.0,1160.1 287.5,1169.8 C289.0,1179.5 291.7,1184.9 293.4,1193.1 C295.1,1201.3 296.5,1211.9 298.0,1221.0 C299.5,1230.1 301.1,1242.2 302.6,1250.0 C304.1,1257.8 306.4,1262.8 307.6,1270.0 C308.8,1277.2 309.2,1293.9 310.2,1295.1 C311.2,1296.3 312.7,1275.5 313.9,1277.5 C315.1,1279.5 316.3,1301.6 317.7,1307.6 C319.1,1313.6 321.1,1313.5 322.7,1315.1 C324.3,1316.7 326.3,1320.0 327.7,1317.6 C329.1,1315.2 330.0,1306.1 331.4,1300.1 C332.8,1294.1 334.8,1285.6 336.4,1280.0 C338.0,1274.4 340.4,1274.1 341.5,1265.0 C342.6,1255.9 342.0,1233.4 343.4,1223.4 C344.8,1213.4 348.2,1207.6 350.4,1202.4 C352.6,1197.2 355.2,1190.4 357.4,1190.8 C359.6,1191.2 362.4,1200.6 364.4,1204.7 C366.4,1208.8 368.0,1217.1 370.2,1216.4 C372.4,1215.7 376.4,1204.9 378.4,1200.1 C380.4,1195.3 381.1,1191.7 383.0,1186.1 C384.9,1180.5 388.5,1171.4 390.0,1165.1 C391.5,1158.8 390.7,1152.1 392.4,1146.5 C394.1,1140.9 398.3,1135.4 400.5,1130.2 C402.7,1125.0 404.4,1119.9 406.3,1113.9 C408.2,1107.9 410.3,1097.2 412.2,1092.9 C414.1,1088.6 416.1,1091.9 418.0,1087.1 C419.9,1082.3 421.6,1065.4 423.8,1062.6 C426.0,1059.8 430.0,1070.0 432.0,1069.6 C434.0,1069.2 434.6,1061.8 436.6,1060.3 C438.6,1058.8 442.6,1061.8 444.8,1060.3 C447.0,1058.8 448.2,1051.4 450.6,1051.0 C453.0,1050.6 457.7,1059.9 459.9,1058.0 C462.1,1056.1 462.6,1044.1 464.6,1039.3 C466.6,1034.5 470.1,1032.5 472.7,1027.7 C475.3,1022.9 478.5,1015.1 480.9,1009.1 C483.3,1003.1 485.5,995.2 487.9,990.4 C490.3,985.6 494.1,980.8 496.0,978.8 C497.9,976.8 498.2,982.3 500.0,977.6 C501.8,972.9 504.4,954.8 507.0,949.6 C509.6,944.4 513.7,949.1 516.3,945.0 C518.9,940.9 521.1,927.4 523.3,924.0 C525.5,920.6 528.1,926.2 530.3,924.0 C532.5,921.8 534.7,914.5 537.3,910.0 C539.9,905.5 543.6,899.8 546.6,896.1 C549.6,892.4 552.9,889.3 555.9,886.7 C558.9,884.1 562.2,882.0 565.2,879.8 C568.2,877.6 571.5,874.5 574.5,872.8 C577.5,871.1 580.9,870.2 583.9,869.3 C586.9,868.4 590.6,865.6 593.2,866.9 C595.8,868.2 597.6,874.4 600.2,877.4 C602.8,880.4 606.9,886.3 609.5,885.6 C612.1,884.9 613.9,879.3 616.5,872.8 C619.1,866.3 623.2,851.5 625.8,844.8 C628.4,838.1 630.6,835.6 632.8,830.8 C635.0,826.0 637.8,815.2 639.8,814.5 C641.8,813.8 643.7,826.6 645.6,826.2 C647.5,825.8 649.5,817.0 651.4,812.2 C653.3,807.4 655.5,796.3 657.2,795.9 C658.9,795.5 659.9,809.5 661.9,809.9 C663.9,810.3 667.6,804.2 670.0,798.2 C672.4,792.2 674.8,777.8 677.0,772.6 C679.2,767.4 682.3,768.0 684.0,765.6 C685.7,763.2 686.4,757.5 687.5,757.5 C688.6,757.5 690.1,761.1 691.0,765.6 C691.9,770.1 692.2,785.0 693.3,785.4 C694.4,785.8 696.5,769.7 698.0,768.0 C699.5,766.3 700.4,774.2 702.6,774.9 C704.8,775.6 709.8,772.6 712.0,772.6 C714.2,772.6 714.4,772.3 716.6,774.9 C718.8,777.5 722.9,786.3 725.9,788.9 C728.9,791.5 731.9,789.0 735.3,791.2 C738.7,793.4 743.2,799.9 746.9,802.9 C750.6,805.9 754.0,809.0 758.5,809.9 C763.0,810.8 771.4,808.7 774.8,808.7 C778.2,808.7 777.7,809.0 780.0,809.9 C782.3,810.8 785.9,811.9 789.3,814.5 C792.7,817.1 797.6,822.5 801.0,826.2 C804.4,829.9 807.1,835.2 810.3,837.8 C813.5,840.4 817.5,842.7 820.8,842.5 C824.1,842.3 828.0,838.2 831.2,836.7 C834.4,835.2 837.2,833.6 840.6,833.2 C844.0,832.8 848.7,833.6 852.2,834.3 C855.7,835.0 859.3,836.1 862.7,837.8 C866.1,839.5 869.5,842.2 873.2,844.8 C876.9,847.4 883.4,853.7 886.0,854.1 C888.6,854.5 888.2,856.8 889.5,847.1 C890.8,837.4 892.8,806.6 894.1,793.6 C895.4,780.6 896.3,770.8 897.6,765.6 C898.9,760.4 901.0,760.6 902.3,761.0 C903.6,761.4 904.9,762.8 905.8,768.0 C906.7,773.2 906.8,789.9 908.1,793.6 C909.4,797.3 912.2,791.6 913.9,791.2 C915.6,790.8 917.3,789.3 918.6,791.2 C919.9,793.1 920.6,798.1 922.1,802.9 C923.6,807.7 926.0,814.4 927.9,821.5 C929.8,828.6 931.8,838.5 933.7,847.1 C935.6,855.7 937.0,869.1 939.6,875.1 C942.2,881.1 946.5,882.0 950.0,884.4 C953.5,886.8 958.3,889.8 961.7,890.2 C965.1,890.6 968.4,886.7 971.0,886.7 C973.6,886.7 975.0,891.3 978.0,890.2 C981.0,889.1 986.6,881.1 989.6,879.8 C992.6,878.5 993.8,879.1 996.6,882.1 C999.4,885.1 1003.7,894.3 1007.1,898.4 C1010.5,902.5 1014.1,905.7 1017.6,907.7 C1021.1,909.7 1025.1,911.6 1029.2,911.2 C1033.3,910.8 1038.7,907.1 1043.2,905.4 C1047.7,903.7 1052.9,902.0 1057.2,900.7 C1061.5,899.4 1066.9,897.2 1070.0,897.2 C1073.1,897.2 1075.5,900.1 1076.5,900.7" fill="none" stroke="#ff00ff" stroke-width="5.5" stroke-linejoin="round" stroke-linecap="round"/>
<path d="M1116.5,817.9 C1117.3,817.9 1119.3,819.8 1121.6,817.9 C1123.9,816.0 1128.2,809.2 1131.0,806.2 C1133.8,803.2 1136.9,802.2 1139.1,799.2 C1141.3,796.2 1143.0,791.5 1144.9,787.6 C1146.8,783.7 1148.9,776.3 1150.8,774.8 C1152.7,773.3 1154.6,776.4 1156.6,778.3 C1158.6,780.2 1161.2,786.6 1163.6,786.4 C1166.0,786.2 1168.9,779.9 1171.7,777.1 C1174.5,774.3 1178.8,772.4 1181.0,768.9 C1183.2,765.4 1184.2,762.1 1185.7,755.0 C1187.2,747.9 1188.9,734.0 1190.4,724.7 C1191.9,715.4 1193.5,702.3 1195.0,696.7 C1196.5,691.1 1198.0,687.9 1199.7,689.8 C1201.4,691.7 1203.8,705.1 1205.5,708.4 C1207.2,711.7 1208.9,712.2 1210.2,710.7 C1211.5,709.2 1212.3,705.4 1213.6,699.1 C1214.9,692.8 1216.6,678.6 1218.3,671.1 C1220.0,663.6 1221.9,654.9 1224.1,652.5 C1226.3,650.1 1230.3,656.4 1232.3,656.0 C1234.3,655.6 1235.2,654.9 1236.9,650.2 C1238.6,645.5 1241.1,633.6 1242.8,626.9 C1244.5,620.2 1246.1,615.3 1247.4,608.2 C1248.7,601.1 1249.8,588.6 1250.9,582.6 C1252.0,576.6 1253.3,571.7 1254.4,571.0 C1255.5,570.3 1256.4,573.5 1257.9,578.0 C1259.4,582.5 1262.0,595.6 1263.7,598.9 C1265.4,602.2 1266.5,601.9 1268.4,598.9 C1270.3,595.9 1273.5,584.4 1275.4,580.3 C1277.3,576.2 1278.1,572.9 1280.0,573.3 C1281.9,573.7 1285.3,579.2 1287.0,582.6 C1288.7,586.0 1289.4,588.3 1290.5,594.3 C1291.6,600.3 1293.1,612.1 1294.0,619.9 C1294.9,627.7 1295.2,635.0 1296.3,643.2 C1297.4,651.4 1299.5,662.9 1301.0,671.1 C1302.5,679.3 1303.8,688.8 1305.7,694.4 C1307.6,700.0 1310.9,701.3 1312.6,706.1 C1314.3,710.9 1314.8,716.1 1316.1,724.7 C1317.4,733.3 1319.3,748.4 1320.8,759.6 C1322.3,770.8 1323.8,787.1 1325.5,794.6 C1327.2,802.1 1329.3,802.1 1331.3,806.2 C1333.3,810.3 1336.4,814.6 1338.3,820.2 C1340.2,825.8 1341.4,833.0 1342.9,841.2 C1344.4,849.4 1346.1,862.1 1347.6,871.4 C1349.1,880.7 1350.7,889.2 1352.2,899.4 C1353.7,909.6 1356.1,927.1 1356.9,935.0 C1357.7,942.9 1355.6,946.0 1356.9,948.6 C1358.2,951.2 1363.1,947.6 1365.1,951.0 C1367.1,954.4 1368.2,962.5 1369.7,969.6 C1371.2,976.7 1372.7,990.7 1374.4,995.2 C1376.1,999.7 1378.2,993.8 1380.2,997.5 C1382.2,1001.2 1385.3,1014.0 1387.2,1018.5 C1389.1,1023.0 1389.9,1024.4 1391.8,1025.5 C1393.7,1026.6 1397.3,1021.8 1399.3,1025.5 C1401.3,1029.2 1402.5,1041.0 1404.0,1048.8 C1405.5,1056.6 1406.7,1068.2 1408.6,1074.4 C1410.5,1080.6 1413.0,1088.0 1415.6,1087.3 C1418.2,1086.6 1422.1,1073.7 1424.9,1069.8 C1427.7,1065.9 1430.9,1066.5 1433.1,1062.8 C1435.3,1059.1 1436.9,1050.2 1438.9,1046.5 C1440.9,1042.8 1444.0,1046.2 1445.9,1039.5 C1447.8,1032.8 1449.1,1014.7 1450.6,1004.6 C1452.1,994.5 1453.3,985.9 1455.2,976.6 C1457.1,967.3 1460.0,955.6 1462.2,946.3 C1464.4,937.0 1467.0,927.3 1469.2,918.4 C1471.4,909.5 1474.2,898.6 1476.2,890.4 C1478.2,882.2 1480.1,872.7 1482.0,867.1 C1483.9,861.5 1485.4,859.6 1487.8,855.5 C1490.2,851.4 1494.5,846.0 1497.1,841.5 C1499.7,837.0 1501.9,832.3 1504.1,827.5 C1506.3,822.7 1508.9,814.0 1511.1,811.2 C1513.3,808.4 1515.7,811.8 1518.1,810.1 C1520.5,808.4 1523.5,801.0 1526.3,800.8 C1529.1,800.6 1533.2,808.7 1535.6,808.9 C1538.0,809.1 1539.4,807.1 1541.4,801.9 C1543.4,796.7 1546.2,780.6 1548.4,776.3 C1550.6,772.0 1553.2,774.0 1555.4,775.1 C1557.6,776.2 1560.5,781.8 1562.4,783.3 C1564.3,784.8 1565.5,786.0 1567.0,784.5 C1568.5,783.0 1570.2,778.5 1571.7,774.0 C1573.2,769.5 1574.8,754.9 1576.3,756.4 C1577.8,757.9 1579.5,773.4 1581.0,783.3 C1582.5,793.2 1583.8,812.4 1585.7,818.2 C1587.6,824.0 1590.4,816.8 1592.6,819.4 C1594.8,822.0 1597.4,831.5 1599.6,834.5 C1601.8,837.5 1604.4,835.0 1606.6,838.0 C1608.8,841.0 1611.2,851.2 1613.6,853.2 C1616.0,855.2 1619.6,852.7 1621.8,850.8 C1624.0,848.9 1625.6,844.5 1627.6,841.5 C1629.6,838.5 1632.4,838.9 1634.6,832.2 C1636.8,825.5 1639.4,801.8 1641.6,799.6 C1643.8,797.4 1645.9,817.1 1648.5,818.2 C1651.1,819.3 1655.3,809.9 1657.9,806.6 C1660.5,803.3 1663.0,799.5 1664.9,797.3 C1666.8,795.1 1667.5,796.7 1669.5,792.6 C1671.5,788.5 1676.0,775.2 1677.7,771.6 C1679.4,768.0 1678.3,767.9 1680.0,770.3 C1681.7,772.7 1685.6,785.1 1688.2,786.6 C1690.8,788.1 1693.5,784.8 1696.3,779.6 C1699.1,774.4 1703.4,756.6 1705.6,754.0 C1707.8,751.4 1708.6,758.3 1710.3,763.3 C1712.0,768.3 1713.5,782.0 1716.1,785.4 C1718.7,788.8 1724.2,786.0 1726.6,784.3 C1729.0,782.6 1729.3,779.6 1731.2,774.9 C1733.1,770.2 1736.3,756.2 1738.2,755.1 C1740.1,754.0 1741.4,764.8 1742.9,768.0 C1744.4,771.2 1745.6,773.4 1747.5,774.9 C1749.4,776.4 1751.9,775.3 1754.5,777.3 C1757.1,779.3 1761.3,787.3 1763.9,787.7 C1766.5,788.1 1768.6,783.3 1770.8,779.6 C1773.0,775.9 1775.6,765.6 1777.8,764.5 C1780.0,763.4 1782.6,770.4 1784.8,772.6 C1787.0,774.8 1789.6,778.2 1791.8,778.4 C1794.0,778.6 1796.2,774.4 1798.8,773.8 C1801.4,773.2 1805.7,771.7 1808.1,774.9 C1810.5,778.1 1812.0,786.5 1813.9,793.6 C1815.8,800.7 1817.8,812.5 1819.8,819.2 C1821.8,825.9 1824.3,831.0 1826.7,835.5 C1829.1,840.0 1832.7,844.1 1834.9,847.1 C1837.1,850.1 1838.7,853.5 1840.7,854.1 C1842.7,854.7 1845.7,849.1 1847.7,850.6 C1849.7,852.1 1851.6,858.7 1853.5,863.4 C1855.4,868.1 1857.1,876.8 1859.3,879.8 C1861.5,882.8 1865.3,879.1 1867.5,882.1 C1869.7,885.1 1871.6,894.9 1873.3,898.4 C1875.0,901.9 1875.2,903.5 1878.0,904.2 C1880.8,904.9 1887.6,902.4 1890.8,903.0 C1894.0,903.6 1895.4,906.6 1897.8,907.7 C1900.2,908.8 1903.3,911.1 1905.9,910.0 C1908.5,908.9 1911.5,901.4 1914.1,900.7 C1916.7,900.0 1919.0,904.8 1922.2,905.4 C1925.4,906.0 1930.9,905.7 1933.9,904.2 C1936.9,902.7 1938.3,898.9 1940.9,896.1 C1943.5,893.3 1948.2,890.8 1950.2,886.7 C1952.2,882.6 1952.4,875.8 1953.7,870.4 C1955.0,865.0 1956.6,853.4 1958.3,853.0 C1960.0,852.6 1962.6,864.6 1964.2,868.1 C1965.8,871.6 1967.1,873.8 1968.0,875.0 C1968.9,876.2 1967.4,875.8 1970.0,875.5 C1972.6,875.2 1980.3,875.2 1984.0,873.2 C1987.7,871.2 1990.3,864.2 1993.3,862.7 C1996.3,861.2 1999.4,863.9 2002.6,863.9 C2005.8,863.9 2009.9,862.0 2013.1,862.7 C2016.3,863.4 2019.2,868.3 2022.4,868.5 C2025.6,868.7 2029.0,865.9 2032.9,863.9 C2036.8,861.9 2042.8,858.9 2046.9,855.7 C2051.0,852.5 2055.2,848.4 2058.5,844.1 C2061.8,839.8 2064.8,833.6 2067.8,828.9 C2070.8,824.2 2074.5,818.4 2077.1,814.9 C2079.7,811.4 2081.1,808.7 2084.1,806.8 C2087.1,804.9 2092.1,804.8 2095.8,803.3 C2099.5,801.8 2104.4,798.1 2107.4,797.5 C2110.4,796.9 2112.2,800.2 2114.4,799.8 C2116.6,799.4 2118.4,795.9 2121.4,795.1 C2124.4,794.3 2129.6,793.8 2133.0,795.1 C2136.4,796.4 2139.4,799.0 2142.4,803.3 C2145.4,807.6 2148.7,814.4 2151.7,821.9 C2154.7,829.4 2158.0,839.8 2161.0,849.9 C2164.0,860.0 2167.7,873.6 2170.3,884.8 C2172.9,896.0 2175.1,910.5 2177.3,919.8 C2179.5,929.1 2182.3,937.4 2184.3,943.0 C2186.3,948.6 2188.4,950.7 2190.0,955.0 C2191.6,959.3 2192.4,964.7 2194.0,969.9 C2195.6,975.1 2197.4,982.6 2199.9,987.7 C2202.4,992.8 2206.6,998.6 2209.8,1001.6 C2213.0,1004.6 2216.5,1005.1 2219.7,1006.5 C2222.9,1007.9 2226.4,1008.6 2229.6,1010.5 C2232.8,1012.4 2236.3,1017.6 2239.5,1018.4 C2242.7,1019.2 2246.6,1016.0 2249.4,1015.4 C2252.2,1014.8 2254.5,1015.9 2257.3,1014.5 C2260.1,1013.1 2264.4,1007.9 2267.2,1006.5 C2270.0,1005.1 2272.3,1006.8 2275.1,1005.5 C2277.9,1004.2 2281.5,1000.5 2285.0,998.6 C2288.5,996.7 2293.1,996.7 2296.9,993.7 C2300.7,990.7 2305.3,983.0 2308.8,979.8 C2312.3,976.6 2315.5,975.3 2318.7,973.9 C2321.9,972.5 2325.4,972.8 2328.6,970.9 C2331.8,969.0 2335.3,964.7 2338.5,962.0 C2341.7,959.3 2344.6,956.2 2348.4,954.1 C2352.2,952.0 2357.9,949.1 2362.3,949.1 C2366.7,949.1 2372.0,953.8 2376.1,954.1 C2380.2,954.4 2384.2,951.6 2388.0,951.1 C2391.8,950.6 2397.3,951.6 2399.9,951.1 C2402.5,950.6 2403.5,948.6 2404.2,948.1" fill="none" stroke="#ff00ff" stroke-width="5.2" stroke-linejoin="round" stroke-linecap="round"/>
<path d="M226.5,658.0 C226.8,658.2 227.4,658.0 228.2,659.3 C229.0,660.6 230.9,663.3 231.6,666.3 C232.3,669.3 231.7,675.0 232.8,678.0 C233.9,681.0 236.9,681.3 238.6,685.0 C240.3,688.7 242.0,694.6 243.3,701.3 C244.6,708.0 245.1,721.3 246.8,726.9 C248.5,732.5 251.9,729.9 253.8,736.2 C255.7,742.5 256.9,760.2 258.4,766.5 C259.9,772.8 262.0,769.5 263.1,775.8 C264.2,782.1 264.5,795.7 265.4,806.1 C266.3,816.5 267.4,832.8 268.9,841.0 C270.4,849.2 273.4,847.9 274.7,857.3 C276.0,866.7 276.2,885.4 277.1,899.6 C278.0,913.8 279.3,938.0 280.6,946.2 C281.9,954.4 284.1,944.8 285.2,950.8 C286.3,956.8 286.4,976.7 287.5,983.4 C288.6,990.1 290.9,987.2 292.2,992.8 C293.5,998.4 294.9,1010.6 295.7,1018.4 C296.5,1026.2 295.6,1034.2 296.9,1041.7 C298.2,1049.2 302.2,1057.5 303.9,1065.0 C305.6,1072.5 306.0,1081.6 307.3,1088.3 C308.6,1095.0 310.7,1106.2 312.0,1106.9 C313.3,1107.6 314.6,1091.4 315.5,1092.9 C316.4,1094.4 316.7,1110.6 317.8,1116.2 C318.9,1121.8 321.0,1125.3 322.5,1127.9 C324.0,1130.5 325.8,1132.9 327.1,1132.5 C328.4,1132.1 329.5,1130.3 330.6,1125.5 C331.7,1120.7 332.6,1107.4 334.1,1102.2 C335.6,1097.0 338.5,1099.6 340.0,1092.9 C341.5,1086.2 342.5,1068.9 343.4,1060.3 C344.3,1051.7 344.3,1045.3 345.8,1039.3 C347.3,1033.3 350.6,1027.5 352.8,1023.0 C355.0,1018.5 357.9,1012.5 359.8,1011.4 C361.7,1010.3 362.7,1012.7 364.4,1016.1 C366.1,1019.5 368.3,1030.9 370.2,1032.4 C372.1,1033.9 373.7,1028.0 376.1,1025.4 C378.5,1022.8 383.2,1020.9 385.4,1016.1 C387.6,1011.3 388.5,1003.7 390.0,995.1 C391.5,986.5 393.2,969.6 394.7,962.5 C396.2,955.4 397.7,952.3 399.4,950.8 C401.1,949.3 403.9,955.8 405.2,953.2 C406.5,950.6 406.2,940.5 407.5,934.5 C408.8,928.5 411.3,920.7 413.3,915.9 C415.3,911.1 418.4,909.1 420.3,904.3 C422.2,899.5 423.9,889.5 425.0,885.6 C426.1,881.7 426.2,880.4 427.3,880.0 C428.4,879.6 431.1,880.9 432.0,883.3 C432.9,885.7 432.4,895.7 433.1,894.9 C433.8,894.1 435.3,882.0 436.6,878.6 C437.9,875.2 438.7,875.5 441.3,873.6 C443.9,871.7 449.9,867.5 452.9,866.6 C455.9,865.7 458.0,870.0 459.9,867.8 C461.8,865.6 462.7,856.6 464.6,852.7 C466.5,848.8 469.4,847.1 471.6,843.4 C473.8,839.7 476.3,834.2 478.5,829.4 C480.7,824.6 483.6,817.6 485.5,813.1 C487.4,808.6 488.7,804.4 490.2,801.4 C491.7,798.4 493.3,797.0 494.8,794.4 C496.3,791.8 498.7,788.4 499.5,785.1 C500.3,781.8 498.4,776.9 500.0,773.6 C501.6,770.3 506.3,767.3 509.3,764.3 C512.3,761.3 516.2,759.5 518.6,755.0 C521.0,750.5 523.0,738.3 524.5,736.4 C526.0,734.5 526.1,745.3 528.0,743.4 C529.9,741.5 533.1,729.5 536.1,724.7 C539.1,719.9 543.8,716.4 546.6,713.1 C549.4,709.8 551.2,706.0 553.6,703.8 C556.0,701.6 558.7,701.7 561.7,699.1 C564.7,696.5 569.0,690.1 572.2,687.5 C575.4,684.9 578.1,683.4 581.5,682.8 C584.9,682.2 590.4,682.5 593.2,684.0 C596.0,685.5 596.6,689.1 599.0,692.1 C601.4,695.1 605.5,702.6 608.3,702.6 C611.1,702.6 614.3,696.0 616.5,692.1 C618.7,688.2 620.6,683.3 622.3,678.1 C624.0,672.9 624.9,664.3 626.9,659.5 C628.9,654.7 632.7,652.0 635.1,647.9 C637.5,643.8 640.4,634.7 642.1,633.9 C643.8,633.1 644.5,642.8 645.6,643.2 C646.7,643.6 647.4,640.7 649.1,636.2 C650.8,631.7 654.2,616.8 656.1,615.3 C658.0,613.8 659.0,626.1 660.7,626.9 C662.4,627.7 664.6,623.7 666.5,620.0 C668.4,616.3 670.3,608.5 672.4,603.6 C674.5,598.7 677.2,593.3 679.4,589.6 C681.6,585.9 684.6,580.7 686.3,580.3 C688.0,579.9 688.7,583.6 689.8,587.3 C690.9,591.0 692.0,603.2 693.3,603.6 C694.6,604.0 696.1,591.1 698.0,589.6 C699.9,588.1 702.4,593.9 705.0,594.3 C707.6,594.7 711.3,590.9 714.3,592.0 C717.3,593.1 720.6,598.7 723.6,601.3 C726.6,603.9 729.5,605.7 732.9,608.3 C736.3,610.9 740.9,614.6 744.6,617.6 C748.3,620.6 751.4,625.6 756.2,626.9 C761.0,628.2 771.0,625.8 774.8,625.7 C778.6,625.6 777.7,625.0 780.0,626.2 C782.3,627.4 785.9,630.2 789.3,633.2 C792.7,636.2 797.6,641.1 801.0,644.8 C804.4,648.5 807.1,654.1 810.3,656.5 C813.5,658.9 817.5,660.4 820.8,660.0 C824.1,659.6 827.9,655.7 831.2,654.2 C834.5,652.7 838.3,650.7 841.7,650.7 C845.1,650.7 848.8,652.9 852.2,654.2 C855.6,655.5 859.3,656.9 862.7,658.8 C866.1,660.7 869.5,663.6 873.2,665.8 C876.9,668.0 883.4,672.8 886.0,672.8 C888.6,672.8 888.2,675.1 889.5,665.8 C890.8,656.5 892.8,627.6 894.1,614.6 C895.4,601.6 896.5,591.2 897.6,584.3 C898.7,577.4 900.0,571.5 901.1,571.5 C902.2,571.5 903.7,577.8 904.6,584.3 C905.5,590.8 906.0,608.8 906.9,612.2 C907.8,615.6 909.3,605.3 910.4,605.3 C911.5,605.3 912.6,611.5 913.9,612.2 C915.2,612.9 917.1,608.4 918.6,609.9 C920.1,611.4 921.5,617.1 923.2,621.6 C924.9,626.1 927.2,629.7 929.1,637.9 C931.0,646.1 933.2,663.9 934.9,672.8 C936.6,681.7 937.6,689.0 939.6,693.8 C941.6,698.6 944.2,700.5 947.7,703.1 C951.2,705.7 958.0,709.4 961.7,710.1 C965.4,710.8 968.0,707.7 971.0,707.7 C974.0,707.7 977.3,711.2 980.3,710.1 C983.3,709.0 986.6,700.8 989.6,700.8 C992.6,700.8 995.7,706.4 998.9,710.1 C1002.1,713.8 1005.7,721.0 1009.4,724.0 C1013.1,727.0 1018.3,727.9 1022.2,728.7 C1026.1,729.5 1030.2,729.8 1033.9,728.7 C1037.6,727.6 1041.8,723.2 1045.5,721.7 C1049.2,720.2 1053.5,720.2 1057.2,719.4 C1060.9,718.6 1065.7,717.0 1068.8,717.0 C1071.9,717.0 1075.3,719.0 1076.5,719.4" fill="none" stroke="#000000" stroke-width="5.5" stroke-linejoin="round" stroke-linecap="round"/>
<path d="M1116.5,636.2 C1117.3,636.2 1119.5,637.7 1121.6,636.2 C1123.7,634.7 1127.0,629.9 1129.8,626.9 C1132.6,623.9 1136.7,621.2 1139.1,617.5 C1141.5,613.8 1143.0,607.7 1144.9,603.6 C1146.8,599.5 1148.9,593.4 1150.8,591.9 C1152.7,590.4 1154.6,593.0 1156.6,594.3 C1158.6,595.6 1161.2,601.0 1163.6,600.1 C1166.0,599.2 1168.7,592.1 1171.7,588.4 C1174.7,584.7 1179.6,581.1 1182.2,576.8 C1184.8,572.5 1186.9,567.1 1188.0,561.6 C1189.1,556.1 1188.3,550.2 1189.2,542.7 C1190.1,535.2 1192.2,521.6 1193.9,514.7 C1195.6,507.8 1197.5,499.8 1199.7,499.6 C1201.9,499.4 1205.6,513.4 1207.8,513.6 C1210.0,513.8 1211.7,508.0 1213.6,500.7 C1215.5,493.4 1217.8,474.6 1219.5,468.1 C1221.2,461.6 1222.1,461.3 1224.1,460.0 C1226.1,458.7 1230.3,462.0 1232.3,460.0 C1234.3,458.0 1235.2,452.6 1236.9,447.2 C1238.6,441.8 1240.9,432.2 1242.8,426.2 C1244.7,420.2 1246.7,414.6 1248.6,409.9 C1250.5,405.2 1252.5,398.6 1254.4,397.1 C1256.3,395.6 1258.2,398.6 1260.2,400.6 C1262.2,402.6 1265.2,407.9 1267.2,409.9 C1269.2,411.9 1270.8,414.0 1273.0,413.4 C1275.2,412.8 1279.1,406.6 1281.2,406.4 C1283.3,406.2 1284.6,406.1 1285.9,412.2 C1287.2,418.3 1288.3,435.1 1289.4,444.8 C1290.5,454.5 1291.7,466.1 1292.8,472.8 C1293.9,479.5 1294.6,480.8 1296.3,486.8 C1298.0,492.8 1300.7,502.6 1303.3,510.1 C1305.9,517.6 1310.7,527.4 1312.6,533.4 C1314.5,539.4 1313.9,539.4 1315.0,547.3 C1316.1,555.2 1317.7,572.1 1319.6,582.6 C1321.5,593.1 1324.7,603.6 1326.6,612.9 C1328.5,622.2 1330.0,632.2 1331.3,640.8 C1332.6,649.4 1333.5,656.8 1334.8,666.5 C1336.1,676.2 1337.9,693.2 1339.4,701.4 C1340.9,709.6 1342.1,712.9 1344.1,717.7 C1346.1,722.5 1350.2,724.2 1352.2,731.7 C1354.2,739.2 1355.4,757.6 1356.9,764.3 C1358.4,771.0 1359.7,770.3 1361.6,773.6 C1363.5,776.9 1366.6,778.1 1368.5,785.2 C1370.4,792.3 1371.9,811.2 1373.2,817.9 C1374.5,824.6 1375.2,827.6 1376.7,827.2 C1378.2,826.8 1380.6,813.6 1382.5,815.5 C1384.4,817.4 1386.8,832.5 1388.3,838.8 C1389.8,845.1 1390.0,850.7 1391.8,855.1 C1393.6,859.5 1397.5,862.6 1399.3,866.0 C1401.1,869.4 1401.7,870.7 1402.8,876.5 C1403.9,882.3 1404.6,898.0 1406.3,902.1 C1408.0,906.2 1410.7,901.2 1413.3,902.1 C1415.9,903.0 1419.6,907.5 1422.6,907.9 C1425.6,908.3 1429.3,908.7 1431.9,904.4 C1434.5,900.1 1436.7,889.3 1438.9,881.1 C1441.1,872.9 1444.0,861.8 1445.9,853.2 C1447.8,844.6 1448.7,836.7 1450.6,827.5 C1452.5,818.3 1455.6,804.8 1457.5,796.0 C1459.4,787.2 1460.3,782.0 1462.2,772.7 C1464.1,763.4 1466.8,748.9 1469.2,737.7 C1471.6,726.5 1475.1,710.6 1477.3,702.8 C1479.5,695.0 1481.1,693.3 1483.2,688.8 C1485.3,684.3 1487.6,679.6 1490.2,674.8 C1492.8,670.0 1496.9,662.2 1499.5,658.5 C1502.1,654.8 1504.3,654.6 1506.5,651.6 C1508.7,648.6 1511.4,641.8 1513.4,639.9 C1515.4,638.0 1517.2,642.3 1519.3,639.9 C1521.4,637.5 1523.9,626.7 1526.3,624.8 C1528.7,622.9 1531.6,630.0 1534.4,628.3 C1537.2,626.6 1541.1,616.0 1543.7,614.3 C1546.3,612.6 1548.3,617.8 1550.7,617.8 C1553.1,617.8 1556.1,615.4 1558.9,614.3 C1561.7,613.2 1565.4,614.2 1568.2,610.8 C1571.0,607.4 1574.3,593.5 1576.3,593.3 C1578.3,593.1 1579.5,599.9 1581.0,609.6 C1582.5,619.3 1583.8,649.1 1585.7,653.9 C1587.6,658.7 1590.2,640.3 1592.6,639.9 C1595.0,639.5 1598.4,647.9 1600.8,651.6 C1603.2,655.3 1605.6,658.7 1607.8,663.2 C1610.0,667.7 1612.4,681.0 1614.8,679.5 C1617.2,678.0 1620.1,658.4 1622.9,653.9 C1625.7,649.4 1629.2,656.6 1632.2,651.6 C1635.2,646.6 1638.8,622.8 1641.6,622.4 C1644.4,622.0 1647.5,646.4 1649.7,649.2 C1651.9,652.0 1653.3,644.9 1655.5,639.9 C1657.7,634.9 1661.5,622.3 1663.7,617.8 C1665.9,613.3 1667.1,615.9 1669.5,612.0 C1671.9,608.1 1677.1,596.5 1678.8,593.3 C1680.5,590.1 1678.3,588.9 1680.0,592.0 C1681.7,595.1 1686.7,611.0 1689.3,612.9 C1691.9,614.8 1693.9,607.7 1696.3,603.6 C1698.7,599.5 1702.5,588.8 1704.5,587.3 C1706.5,585.8 1707.1,589.8 1709.1,594.3 C1711.1,598.8 1714.5,611.8 1717.3,615.3 C1720.1,618.8 1724.2,618.3 1726.6,616.4 C1729.0,614.5 1730.5,608.3 1732.4,603.6 C1734.3,598.9 1736.5,588.4 1738.2,587.3 C1739.9,586.2 1741.4,593.6 1742.9,596.6 C1744.4,599.6 1745.6,604.2 1747.5,605.9 C1749.4,607.6 1752.3,605.8 1754.5,607.1 C1756.7,608.4 1759.3,614.1 1761.5,614.1 C1763.7,614.1 1765.9,610.1 1768.5,607.1 C1771.1,604.1 1775.2,597.0 1777.8,595.5 C1780.4,594.0 1782.6,596.5 1784.8,597.8 C1787.0,599.1 1789.6,603.6 1791.8,603.6 C1794.0,603.6 1796.2,598.6 1798.8,597.8 C1801.4,597.0 1805.7,596.1 1808.1,598.9 C1810.5,601.7 1812.0,609.0 1813.9,615.3 C1815.8,621.6 1817.8,631.4 1819.8,638.5 C1821.8,645.6 1824.5,654.5 1826.7,659.5 C1828.9,664.5 1831.5,666.8 1833.7,670.0 C1835.9,673.2 1838.1,678.4 1840.7,679.3 C1843.3,680.2 1847.8,674.1 1850.0,675.8 C1852.2,677.5 1853.2,685.0 1854.7,689.8 C1856.2,694.6 1857.1,703.1 1859.3,706.1 C1861.5,709.1 1866.5,705.8 1868.7,708.4 C1870.9,711.0 1871.6,718.7 1873.3,722.4 C1875.0,726.1 1876.7,731.0 1879.1,731.7 C1881.5,732.4 1885.5,726.2 1888.5,727.0 C1891.5,727.8 1895.2,735.6 1897.8,736.4 C1900.4,737.2 1902.4,733.6 1904.8,731.7 C1907.2,729.8 1910.1,724.7 1912.9,724.7 C1915.7,724.7 1919.6,731.5 1922.2,731.7 C1924.8,731.9 1926.6,727.4 1929.2,725.9 C1931.8,724.4 1935.5,725.2 1938.5,722.4 C1941.5,719.6 1945.7,712.9 1947.9,708.4 C1950.1,703.9 1950.8,698.7 1952.5,694.4 C1954.2,690.1 1956.4,681.2 1958.3,681.6 C1960.2,682.0 1962.6,694.0 1964.2,696.8 C1965.8,699.6 1967.1,698.8 1968.0,699.0 C1968.9,699.2 1968.2,698.2 1970.0,698.3 C1971.8,698.4 1976.9,700.1 1979.3,699.5 C1981.7,698.9 1982.9,696.5 1985.1,694.8 C1987.3,693.1 1990.5,689.7 1993.3,689.0 C1996.1,688.3 1999.2,690.2 2002.6,690.2 C2006.0,690.2 2011.3,688.7 2014.3,689.0 C2017.3,689.3 2019.0,691.8 2021.2,692.0 C2023.4,692.2 2025.6,690.5 2028.2,690.2 C2030.8,689.9 2034.5,691.7 2037.5,690.2 C2040.5,688.7 2043.5,684.1 2046.9,680.9 C2050.3,677.7 2055.2,674.5 2058.5,670.4 C2061.8,666.3 2064.4,660.8 2067.8,655.2 C2071.2,649.6 2075.8,640.0 2079.5,635.5 C2083.2,631.0 2087.8,628.8 2091.1,627.3 C2094.4,625.8 2097.0,625.9 2100.4,626.1 C2103.8,626.3 2109.1,628.9 2112.1,628.5 C2115.1,628.1 2116.9,625.1 2119.1,623.8 C2121.3,622.5 2123.9,620.5 2126.1,620.3 C2128.3,620.1 2130.4,621.7 2133.0,622.6 C2135.6,623.5 2139.8,623.9 2142.4,626.1 C2145.0,628.3 2147.2,631.6 2149.4,636.6 C2151.6,641.6 2154.1,650.5 2156.3,657.6 C2158.5,664.7 2161.1,672.3 2163.3,680.9 C2165.5,689.5 2168.1,701.5 2170.3,711.2 C2172.5,720.9 2175.1,732.5 2177.3,741.4 C2179.5,750.3 2182.3,761.2 2184.3,767.1 C2186.3,773.0 2188.1,772.8 2190.0,778.0 C2191.9,783.2 2193.4,792.7 2195.9,799.6 C2198.4,806.5 2202.6,817.0 2205.8,821.4 C2209.0,825.8 2212.2,825.6 2215.7,827.3 C2219.2,829.0 2223.5,830.1 2227.6,832.3 C2231.7,834.5 2238.0,840.6 2241.5,841.2 C2245.0,841.8 2246.2,837.6 2249.4,836.2 C2252.6,834.8 2257.5,833.7 2261.3,832.3 C2265.1,830.9 2269.4,829.2 2273.2,827.3 C2277.0,825.4 2281.5,822.1 2285.0,820.4 C2288.5,818.7 2291.8,818.1 2295.0,816.4 C2298.2,814.7 2302.1,812.0 2304.9,809.5 C2307.7,807.0 2309.6,803.0 2312.8,800.6 C2316.0,798.2 2321.2,796.8 2324.7,794.7 C2328.2,792.6 2331.1,790.2 2334.6,787.7 C2338.1,785.2 2342.6,781.5 2346.4,778.8 C2350.2,776.1 2355.1,772.5 2358.3,770.9 C2361.5,769.3 2363.4,768.6 2366.2,768.9 C2369.0,769.2 2372.6,772.6 2376.1,772.9 C2379.6,773.2 2384.8,770.9 2388.0,770.9 C2391.2,770.9 2393.3,772.7 2395.9,772.9 C2398.5,773.1 2402.9,772.1 2404.2,771.9" fill="none" stroke="#000000" stroke-width="5.2" stroke-linejoin="round" stroke-linecap="round"/>
<path d="M226.5,504.0 C226.8,504.3 227.2,504.6 228.2,505.6 C229.2,506.6 231.7,506.9 232.8,510.3 C233.9,513.7 233.6,521.8 235.1,526.6 C236.6,531.4 240.6,537.3 242.1,540.6 C243.6,543.9 243.6,543.0 244.5,547.5 C245.4,552.0 246.3,562.9 248.0,568.5 C249.7,574.1 253.2,575.0 254.9,582.5 C256.6,590.0 257.1,608.8 258.4,615.1 C259.7,621.4 261.8,615.4 263.1,622.1 C264.4,628.8 265.7,644.3 266.6,657.0 C267.5,669.7 267.6,691.2 268.9,701.3 C270.2,711.4 273.2,708.7 274.7,719.9 C276.2,731.1 276.9,757.4 278.2,771.2 C279.5,785.0 281.6,800.1 282.9,806.1 C284.2,812.1 285.3,802.4 286.4,808.4 C287.5,814.4 288.6,831.4 289.9,843.4 C291.2,855.4 293.4,873.9 294.5,883.3 C295.6,892.7 295.4,895.6 296.9,901.9 C298.4,908.2 301.9,917.3 303.9,922.9 C305.9,928.5 308.6,932.2 309.7,936.9 C310.8,941.6 310.2,947.3 310.5,952.0 C310.8,956.7 310.7,964.7 311.5,966.0 C312.3,967.3 314.5,958.3 315.5,960.0 C316.5,961.7 316.7,972.8 317.8,976.5 C318.9,980.2 321.0,981.2 322.5,983.4 C324.0,985.6 325.8,990.8 327.1,990.4 C328.4,990.0 329.3,985.9 330.6,981.1 C331.9,976.3 333.6,965.4 335.3,960.2 C337.0,955.0 339.6,957.1 341.1,948.5 C342.6,939.9 343.7,916.3 344.6,906.6 C345.5,896.9 346.3,892.3 346.9,888.0 C347.5,883.7 347.0,883.8 348.1,880.0 C349.2,876.2 352.0,867.4 353.9,864.3 C355.8,861.2 357.9,860.4 359.8,860.8 C361.7,861.2 363.6,864.6 365.6,866.6 C367.6,868.6 370.4,873.4 372.6,873.6 C374.8,873.8 377.6,871.9 379.6,867.8 C381.6,863.7 383.4,855.3 385.4,848.0 C387.4,840.7 390.5,830.2 392.4,822.4 C394.3,814.6 395.0,803.6 397.0,799.1 C399.0,794.6 403.3,798.9 405.2,794.4 C407.1,789.9 407.2,777.5 408.7,771.2 C410.2,764.9 413.0,759.3 414.5,754.8 C416.0,750.3 416.3,748.8 418.0,743.2 C419.7,737.6 422.8,722.5 425.0,719.9 C427.2,717.3 429.8,726.9 432.0,726.9 C434.2,726.9 436.7,723.3 438.9,719.9 C441.1,716.5 443.7,708.5 445.9,705.9 C448.1,703.3 450.3,702.8 452.9,703.6 C455.5,704.4 460.3,712.8 462.2,710.6 C464.1,708.4 463.1,693.0 464.6,689.6 C466.1,686.2 469.4,693.3 471.6,689.6 C473.8,685.9 476.3,671.9 478.5,666.3 C480.7,660.7 483.6,659.2 485.5,654.7 C487.4,650.2 488.3,642.5 490.2,638.4 C492.1,634.3 495.6,632.4 497.2,629.1 C498.8,625.8 498.6,622.4 500.0,617.6 C501.4,612.8 503.8,602.3 505.8,598.9 C507.8,595.5 510.8,598.8 512.8,596.6 C514.8,594.4 516.6,589.5 518.6,585.0 C520.6,580.5 523.7,570.6 525.6,568.7 C527.5,566.8 528.8,575.2 530.3,573.3 C531.8,571.4 533.2,560.0 534.9,557.0 C536.6,554.0 538.9,556.9 540.8,554.7 C542.7,552.5 544.6,545.6 546.6,543.0 C548.6,540.4 551.7,541.0 553.6,538.4 C555.5,535.8 555.6,529.7 558.2,526.7 C560.8,523.7 566.5,521.7 569.9,519.8 C573.3,517.9 576.2,516.2 579.2,515.1 C582.2,514.0 585.9,512.8 588.5,512.8 C591.1,512.8 593.3,512.5 595.5,515.1 C597.7,517.7 600.5,526.1 602.5,529.1 C604.5,532.1 605.7,534.5 608.3,533.7 C610.9,532.9 616.0,530.4 618.8,524.4 C621.6,518.4 623.9,502.1 625.8,496.5 C627.7,490.9 628.9,492.5 630.4,489.5 C631.9,486.5 633.2,480.8 635.1,477.8 C637.0,474.8 640.1,471.5 642.1,470.8 C644.1,470.1 646.4,474.3 647.9,473.2 C649.4,472.1 649.7,468.0 651.4,463.9 C653.1,459.8 656.4,449.0 658.4,447.5 C660.4,446.0 662.3,455.6 664.2,454.5 C666.1,453.4 668.0,445.4 670.0,440.6 C672.0,435.8 674.8,427.7 677.0,424.3 C679.2,420.9 682.3,421.5 684.0,419.6 C685.7,417.7 686.4,412.6 687.5,412.6 C688.6,412.6 690.1,416.6 691.0,419.6 C691.9,422.6 692.2,430.8 693.3,431.2 C694.4,431.6 696.1,422.8 698.0,421.9 C699.9,421.0 703.1,425.0 705.0,425.4 C706.9,425.8 708.1,425.0 709.6,424.3 C711.1,423.6 712.8,420.4 714.3,420.8 C715.8,421.2 717.0,425.1 718.9,426.6 C720.8,428.1 723.3,428.6 725.9,430.1 C728.5,431.6 732.3,433.9 735.3,435.9 C738.3,437.9 741.3,439.9 744.6,442.9 C747.9,445.9 752.5,453.0 756.2,454.5 C759.9,456.0 764.2,452.2 767.9,452.2 C771.6,452.2 775.3,452.0 779.5,454.5 C783.7,457.0 790.2,464.2 794.0,467.8 C797.8,471.4 800.3,474.1 803.3,477.1 C806.3,480.1 809.6,484.4 812.6,486.5 C815.6,488.6 818.9,490.6 821.9,490.0 C824.9,489.4 828.0,484.7 831.2,483.0 C834.4,481.3 838.3,479.7 841.7,479.5 C845.1,479.3 848.6,480.7 852.2,481.8 C855.8,482.9 860.5,484.6 863.9,486.5 C867.3,488.4 869.9,490.8 873.2,493.4 C876.5,496.0 882.2,502.4 884.8,502.8 C887.4,503.2 888.0,505.9 889.5,495.8 C891.0,485.7 892.8,454.4 894.1,439.9 C895.4,425.4 896.5,412.5 897.6,404.9 C898.7,397.3 900.0,393.2 901.1,392.1 C902.2,391.0 903.7,392.6 904.6,398.0 C905.5,403.4 906.1,420.3 906.9,425.9 C907.7,431.5 908.4,432.7 909.3,432.9 C910.2,433.1 911.7,426.7 912.8,427.1 C913.9,427.5 915.0,434.3 916.3,435.2 C917.6,436.1 919.6,431.4 920.9,432.9 C922.2,434.4 923.3,439.7 924.4,444.5 C925.5,449.3 926.6,456.5 927.9,463.2 C929.2,469.9 931.3,479.0 932.6,486.5 C933.9,494.0 934.8,503.5 936.1,509.8 C937.4,516.1 938.8,522.4 940.7,526.1 C942.6,529.8 945.1,530.4 947.7,533.0 C950.3,535.6 954.0,540.9 957.0,542.4 C960.0,543.9 962.9,542.0 966.3,542.4 C969.7,542.8 974.4,545.3 978.0,544.7 C981.6,544.1 985.5,538.9 988.5,538.9 C991.5,538.9 993.6,541.5 996.6,544.7 C999.6,547.9 1003.4,555.7 1007.1,558.7 C1010.8,561.7 1016.0,562.6 1019.9,563.3 C1023.8,564.0 1027.9,564.0 1031.6,563.3 C1035.3,562.6 1039.5,559.8 1043.2,558.7 C1046.9,557.6 1050.7,557.2 1054.8,556.3 C1058.9,555.4 1065.3,552.8 1068.8,552.8 C1072.3,552.8 1075.3,555.7 1076.5,556.3" fill="none" stroke="#ff7f00" stroke-width="5.5" stroke-linejoin="round" stroke-linecap="round"/>
<path d="M1116.5,464.6 C1117.3,464.4 1119.3,465.5 1121.6,463.5 C1123.9,461.5 1128.2,455.3 1131.0,451.8 C1133.8,448.3 1136.9,445.1 1139.1,441.4 C1141.3,437.7 1143.0,432.8 1144.9,428.5 C1146.8,424.2 1148.9,416.8 1150.8,414.6 C1152.7,412.4 1154.6,414.0 1156.6,414.6 C1158.6,415.2 1161.2,420.3 1163.6,418.1 C1166.0,415.9 1168.9,405.6 1171.7,400.6 C1174.5,395.6 1178.8,390.7 1181.0,386.6 C1183.2,382.5 1184.2,381.7 1185.7,375.0 C1187.2,368.3 1188.9,354.0 1190.4,344.7 C1191.9,335.4 1193.5,324.2 1195.0,316.7 C1196.5,309.2 1198.0,300.0 1199.7,298.1 C1201.4,296.2 1203.5,306.2 1205.5,305.1 C1207.5,304.0 1210.6,297.1 1212.5,291.1 C1214.4,285.1 1215.4,275.4 1217.1,267.8 C1218.8,260.2 1220.8,247.1 1223.0,243.4 C1225.2,239.7 1228.9,245.8 1231.1,244.5 C1233.3,243.2 1235.4,238.5 1236.9,235.2 C1238.4,231.9 1238.7,226.9 1240.4,223.6 C1242.1,220.3 1245.7,218.0 1247.4,214.3 C1249.1,210.6 1249.6,205.7 1250.9,200.3 C1252.2,194.9 1253.9,181.6 1255.6,180.5 C1257.3,179.4 1259.7,188.6 1261.4,193.3 C1263.1,198.0 1264.4,204.8 1266.1,209.6 C1267.8,214.4 1270.4,221.2 1271.9,223.6 C1273.4,226.0 1273.9,226.6 1275.4,224.7 C1276.9,222.8 1279.7,213.4 1281.2,211.9 C1282.7,210.4 1283.4,210.2 1284.7,215.4 C1286.0,220.6 1287.7,235.0 1289.4,244.5 C1291.1,254.0 1293.2,263.6 1295.2,274.8 C1297.2,286.0 1300.2,302.1 1302.2,314.4 C1304.2,326.7 1306.0,339.4 1308.0,351.7 C1310.0,364.0 1312.6,379.0 1315.0,391.3 C1317.4,403.6 1320.5,416.9 1323.1,428.5 C1325.7,440.1 1329.1,452.7 1331.3,463.5 C1333.5,474.3 1335.2,485.3 1337.1,496.1 C1339.0,506.9 1340.9,519.2 1342.9,531.0 C1344.9,542.8 1348.0,558.4 1349.9,570.0 C1351.8,581.6 1353.1,594.9 1354.6,603.6 C1356.1,612.3 1357.3,619.7 1359.2,624.5 C1361.1,629.3 1364.5,629.1 1366.2,633.9 C1367.9,638.7 1368.6,646.2 1369.7,654.8 C1370.8,663.4 1372.1,681.4 1373.2,687.4 C1374.3,693.4 1375.2,693.6 1376.7,692.1 C1378.2,690.6 1380.8,679.2 1382.5,678.1 C1384.2,677.0 1385.9,681.4 1387.2,685.1 C1388.5,688.8 1389.2,695.4 1390.7,701.4 C1392.2,707.4 1394.8,718.3 1396.5,722.4 C1398.2,726.5 1399.7,722.9 1401.2,727.0 C1402.7,731.1 1404.2,742.7 1405.8,748.0 C1407.4,753.3 1409.2,758.2 1411.0,759.9 C1412.8,761.6 1414.9,757.8 1416.8,758.7 C1418.7,759.6 1420.7,766.1 1422.6,765.7 C1424.5,765.3 1426.5,762.0 1428.4,756.4 C1430.3,750.8 1432.3,738.3 1434.3,730.8 C1436.3,723.3 1439.2,716.1 1441.2,709.8 C1443.2,703.5 1445.2,699.8 1447.1,691.2 C1449.0,682.6 1450.9,667.8 1452.9,656.2 C1454.9,644.6 1457.7,629.0 1459.9,618.9 C1462.1,608.8 1464.7,601.5 1466.9,593.3 C1469.1,585.1 1471.7,575.5 1473.9,567.7 C1476.1,559.9 1478.6,551.5 1480.8,544.4 C1483.0,537.3 1485.6,529.4 1487.8,523.4 C1490.0,517.4 1492.2,511.6 1494.8,507.1 C1497.4,502.6 1501.5,499.2 1504.1,495.5 C1506.7,491.8 1508.9,487.3 1511.1,483.9 C1513.3,480.5 1515.5,479.0 1518.1,474.5 C1520.7,470.0 1524.6,458.3 1527.4,455.9 C1530.2,453.5 1532.8,460.5 1535.6,459.4 C1538.4,458.3 1542.5,449.3 1544.9,448.9 C1547.3,448.5 1548.7,456.2 1550.7,457.1 C1552.7,458.0 1555.1,455.6 1557.7,454.7 C1560.3,453.8 1564.0,454.4 1567.0,451.2 C1570.0,448.0 1574.1,435.3 1576.3,434.9 C1578.5,434.5 1579.7,441.4 1581.0,448.9 C1582.3,456.4 1582.6,476.5 1584.5,481.5 C1586.4,486.5 1590.0,476.7 1592.6,480.4 C1595.2,484.1 1598.4,501.1 1600.8,504.8 C1603.2,508.5 1605.2,501.7 1607.8,503.7 C1610.4,505.7 1614.7,516.3 1617.1,517.6 C1619.5,518.9 1620.5,515.0 1622.9,511.8 C1625.3,508.6 1629.2,505.8 1632.2,497.8 C1635.2,489.8 1638.6,463.9 1641.6,461.7 C1644.6,459.5 1647.9,483.7 1650.9,483.9 C1653.9,484.1 1657.4,466.8 1660.2,462.9 C1663.0,459.0 1665.5,462.9 1668.3,459.4 C1671.1,455.9 1675.8,443.8 1677.7,440.8 C1679.6,437.8 1678.3,438.4 1680.0,440.6 C1681.7,442.8 1685.8,454.1 1688.2,454.5 C1690.6,454.9 1692.5,447.6 1695.1,442.9 C1697.7,438.2 1702.3,427.3 1704.5,425.4 C1706.7,423.5 1707.2,426.7 1709.1,431.2 C1711.0,435.7 1713.7,450.8 1716.1,453.4 C1718.5,456.0 1721.9,450.3 1724.3,447.5 C1726.7,444.7 1729.3,440.0 1731.2,435.9 C1733.1,431.8 1734.4,422.3 1735.9,421.9 C1737.4,421.5 1739.1,429.5 1740.6,433.6 C1742.1,437.7 1743.3,444.9 1745.2,447.5 C1747.1,450.1 1749.6,448.0 1752.2,449.9 C1754.8,451.8 1758.9,459.2 1761.5,459.2 C1764.1,459.2 1766.1,454.0 1768.5,449.9 C1770.9,445.8 1774.5,435.3 1776.7,433.6 C1778.9,431.9 1780.5,437.9 1782.5,439.4 C1784.5,440.9 1787.3,442.7 1789.5,442.9 C1791.7,443.1 1793.7,441.0 1796.5,440.6 C1799.3,440.2 1804.3,438.7 1806.9,440.6 C1809.5,442.5 1811.1,447.0 1812.8,452.2 C1814.5,457.4 1815.5,466.5 1817.4,473.2 C1819.3,479.9 1822.2,488.7 1824.4,494.1 C1826.6,499.5 1829.0,502.4 1831.4,506.9 C1833.8,511.4 1837.7,519.9 1839.6,522.1 C1841.5,524.3 1841.5,522.4 1843.0,520.9 C1844.5,519.4 1847.2,512.2 1848.9,512.8 C1850.6,513.4 1851.8,519.6 1853.5,524.4 C1855.2,529.2 1857.3,539.5 1859.3,543.0 C1861.3,546.5 1864.2,543.1 1866.3,546.5 C1868.4,549.9 1870.3,560.1 1872.2,564.0 C1874.1,567.9 1876.0,569.5 1878.0,571.0 C1880.0,572.5 1883.0,572.9 1885.0,573.3 C1887.0,573.7 1888.4,572.4 1890.8,573.3 C1893.2,574.2 1897.5,579.1 1900.1,579.1 C1902.7,579.1 1904.9,575.2 1907.1,573.3 C1909.3,571.4 1911.9,568.1 1914.1,567.5 C1916.3,566.9 1918.7,570.7 1921.1,569.8 C1923.5,568.9 1926.4,564.1 1929.2,561.7 C1932.0,559.3 1935.5,557.3 1938.5,554.7 C1941.5,552.1 1945.7,548.8 1947.9,545.4 C1950.1,542.0 1950.8,537.8 1952.5,533.7 C1954.2,529.6 1956.4,519.8 1958.3,519.8 C1960.2,519.8 1962.5,530.4 1964.2,533.7 C1965.9,537.0 1967.9,539.3 1968.8,540.7 C1969.7,542.1 1968.0,543.4 1970.0,542.3 C1972.0,541.2 1978.1,536.7 1981.6,534.1 C1985.1,531.5 1989.1,526.9 1992.1,526.0 C1995.1,525.1 1998.3,528.2 2000.3,528.3 C2002.3,528.4 2002.7,526.6 2004.9,526.7 C2007.1,526.8 2010.9,528.6 2014.3,529.0 C2017.7,529.4 2021.8,530.7 2025.9,529.5 C2030.0,528.3 2036.0,524.1 2039.9,521.3 C2043.8,518.5 2047.1,514.8 2050.4,512.0 C2053.7,509.2 2057.6,507.4 2060.8,503.9 C2064.0,500.4 2067.2,495.1 2070.2,489.9 C2073.2,484.7 2077.1,475.3 2079.5,471.2 C2081.9,467.1 2083.1,466.0 2085.3,464.3 C2087.5,462.6 2090.8,462.1 2093.4,460.8 C2096.0,459.5 2099.0,455.9 2101.6,456.1 C2104.2,456.3 2107.0,461.9 2109.8,461.9 C2112.6,461.9 2116.5,457.0 2119.1,456.1 C2121.7,455.2 2123.9,455.9 2126.1,456.1 C2128.3,456.3 2130.6,456.4 2133.0,457.3 C2135.4,458.2 2138.6,458.6 2141.2,461.9 C2143.8,465.2 2146.6,471.5 2149.4,478.2 C2152.2,484.9 2155.7,494.6 2158.7,503.9 C2161.7,513.2 2165.4,526.1 2168.0,536.5 C2170.6,546.9 2172.8,560.2 2175.0,569.1 C2177.2,578.0 2179.8,584.7 2182.0,592.4 C2184.2,600.1 2186.5,610.1 2188.9,617.2 C2191.3,624.3 2193.7,630.3 2197.1,636.8 C2200.5,643.3 2204.9,653.0 2210.1,658.0 C2215.3,663.0 2224.5,665.2 2229.7,667.8 C2234.9,670.4 2238.8,674.1 2242.7,674.3 C2246.6,674.5 2251.1,670.2 2254.2,669.2 C2257.3,668.2 2258.1,669.1 2262.3,667.8 C2266.5,666.5 2275.0,664.2 2280.2,661.2 C2285.4,658.2 2290.7,651.7 2294.9,649.0 C2299.1,646.3 2302.6,646.8 2306.3,644.1 C2310.0,641.4 2314.7,634.5 2317.8,631.9 C2320.9,629.3 2323.3,629.8 2325.9,627.8 C2328.5,625.8 2331.5,620.5 2334.1,619.7 C2336.7,618.9 2339.6,623.8 2342.2,622.9 C2344.8,622.0 2347.5,616.8 2350.4,613.9 C2353.3,611.0 2356.0,606.7 2360.2,605.0 C2364.4,603.3 2371.6,603.4 2376.5,603.3 C2381.4,603.2 2387.8,603.4 2391.1,604.2 C2394.4,605.0 2394.8,608.5 2396.9,608.2 C2399.0,607.9 2403.0,603.4 2404.2,602.5" fill="none" stroke="#ff7f00" stroke-width="5.2" stroke-linejoin="round" stroke-linecap="round"/>
<line x1="322.5" y1="516" x2="322.5" y2="1666" stroke="#ff1493" stroke-width="4" stroke-dasharray="9.6,6.4,2.6,6.4,2.6,4.93" fill="none"/>
<line x1="902.5" y1="309" x2="902.5" y2="1458" stroke="#ff1493" stroke-width="4" stroke-dasharray="9.6,6.4,2.6,6.4,2.6,4.93" fill="none"/>
<line x1="916.3" y1="221" x2="916.3" y2="1370" stroke="#ff1493" stroke-width="4" stroke-dasharray="9.6,6.4,2.6,6.4,2.6,4.93" fill="none"/>
<line x1="1256.5" y1="117" x2="1256.5" y2="1265" stroke="#ff1493" stroke-width="4" stroke-dasharray="9.6,6.4,2.6,6.4,2.6,4.93" fill="none"/>
<line x1="1552" y1="349" x2="1552" y2="1498" stroke="#ff1493" stroke-width="4" stroke-dasharray="9.6,6.4,2.6,6.4,2.6,4.93" fill="none"/>
<line x1="1797" y1="362" x2="1797" y2="1561.5" stroke="#ff1493" stroke-width="4" stroke-dasharray="9.6,6.4,2.6,6.4,2.6,4.93" fill="none"/>
<line x1="2131.9" y1="258" x2="2131.9" y2="1408" stroke="#ff1493" stroke-width="4" stroke-dasharray="9.6,6.4,2.6,6.4,2.6,4.93" fill="none"/>
<path d="M1077,75.5 L226,75.5 L226,1682.3 L1077,1682.3" stroke="#1a1a1a" stroke-width="3.2" fill="none" stroke-linejoin="miter"/>
<path d="M1118,75.5 L2404.7,75.5 L2404.7,1682.3 L1118,1682.3" stroke="#1a1a1a" stroke-width="3.2" fill="none" stroke-linejoin="miter"/>
<line x1="1059.5" y1="107.2" x2="1098" y2="44.3" stroke="#111" stroke-width="2.6" fill="none"/>
<line x1="1097" y1="107.2" x2="1135.5" y2="44.3" stroke="#111" stroke-width="2.6" fill="none"/>
<line x1="1059.5" y1="1713.2" x2="1098" y2="1650.3" stroke="#111" stroke-width="2.6" fill="none"/>
<line x1="1097" y1="1713.2" x2="1135.5" y2="1650.3" stroke="#111" stroke-width="2.6" fill="none"/>
<line x1="226" y1="1682.3" x2="226" y2="1698.3" stroke="#1a1a1a" stroke-width="3.2"/>
<line x1="469" y1="1682.3" x2="469" y2="1698.3" stroke="#1a1a1a" stroke-width="3.2"/>
<line x1="712.4" y1="1682.3" x2="712.4" y2="1698.3" stroke="#1a1a1a" stroke-width="3.2"/>
<line x1="957" y1="1682.3" x2="957" y2="1698.3" stroke="#1a1a1a" stroke-width="3.2"/>
<line x1="1283.3" y1="1682.3" x2="1283.3" y2="1698.3" stroke="#1a1a1a" stroke-width="3.2"/>
<line x1="1657.1" y1="1682.3" x2="1657.1" y2="1698.3" stroke="#1a1a1a" stroke-width="3.2"/>
<line x1="2031.1" y1="1682.3" x2="2031.1" y2="1698.3" stroke="#1a1a1a" stroke-width="3.2"/>
<line x1="2404.7" y1="1682.3" x2="2404.7" y2="1698.3" stroke="#1a1a1a" stroke-width="3.2"/>
<line x1="348" y1="1682.3" x2="348" y2="1713" stroke="#1a1a1a" stroke-width="3.2"/>
<line x1="590.4" y1="1682.3" x2="590.4" y2="1713" stroke="#1a1a1a" stroke-width="3.2"/>
<line x1="834.5" y1="1682.3" x2="834.5" y2="1713" stroke="#1a1a1a" stroke-width="3.2"/>
<line x1="1470.4" y1="1682.3" x2="1470.4" y2="1713" stroke="#1a1a1a" stroke-width="3.2"/>
<line x1="1844.4" y1="1682.3" x2="1844.4" y2="1713" stroke="#1a1a1a" stroke-width="3.2"/>
<line x1="2217.8" y1="1682.3" x2="2217.8" y2="1713" stroke="#1a1a1a" stroke-width="3.2"/>
<text transform="translate(347,1801.5) scale(1,1.04)" font-family="'Liberation Sans', sans-serif" font-size="84.5" text-anchor="middle" fill="#000">3500</text>
<text transform="translate(590.4,1801.5) scale(1,1.04)" font-family="'Liberation Sans', sans-serif" font-size="84.5" text-anchor="middle" fill="#000">3000</text>
<text transform="translate(833.5,1801.5) scale(1,1.04)" font-family="'Liberation Sans', sans-serif" font-size="84.5" text-anchor="middle" fill="#000">2500</text>
<text transform="translate(1471.5,1801.5) scale(1,1.04)" font-family="'Liberation Sans', sans-serif" font-size="84.5" text-anchor="middle" fill="#000">1600</text>
<text transform="translate(1844.6,1801.5) scale(1,1.04)" font-family="'Liberation Sans', sans-serif" font-size="84.5" text-anchor="middle" fill="#000">1400</text>
<text transform="translate(2218.7,1801.5) scale(1,1.04)" font-family="'Liberation Sans', sans-serif" font-size="84.5" text-anchor="middle" fill="#000">1200</text>
<text transform="translate(239.2,502.5) scale(1,1.04)" font-family="'Liberation Sans', sans-serif" font-size="66.5" font-weight="bold" fill="#000">3634 cm</text><text transform="translate(500.4,460.6) scale(0.77,1.04)" font-family="'Liberation Sans', sans-serif" font-size="49" fill="#000">−</text><text transform="translate(518.4,459.6) scale(1,1.04)" font-family="'Liberation Sans', sans-serif" font-size="49" fill="#000">1</text>
<text transform="translate(590.2,337.2) scale(1,1.04)" font-family="'Liberation Sans', sans-serif" font-size="66.5" font-weight="bold" fill="#000">2363 cm</text><text transform="translate(853.6,294.7) scale(0.77,1.04)" font-family="'Liberation Sans', sans-serif" font-size="49" fill="#000">−</text><text transform="translate(871.4,293.7) scale(1,1.04)" font-family="'Liberation Sans', sans-serif" font-size="49" fill="#000">1</text>
<text transform="translate(872.1,200.4) scale(1,1.04)" font-family="'Liberation Sans', sans-serif" font-size="66.5" font-weight="bold" fill="#000">2335 cm</text><text transform="translate(1134.1,158.5) scale(0.77,1.04)" font-family="'Liberation Sans', sans-serif" font-size="49" fill="#000">−</text><text transform="translate(1151.7,157.5) scale(1,1.04)" font-family="'Liberation Sans', sans-serif" font-size="49" fill="#000">1</text>
<text transform="translate(1278.6,180.8) scale(1,1.04)" font-family="'Liberation Sans', sans-serif" font-size="66.5" font-weight="bold" fill="#000">1712 cm</text><text transform="translate(1539.9,144.2) scale(0.77,1.04)" font-family="'Liberation Sans', sans-serif" font-size="43" fill="#000">−</text><text transform="translate(1555.6,143.4) scale(1,1.04)" font-family="'Liberation Sans', sans-serif" font-size="43" fill="#000">1</text>
<text transform="translate(1433.5,331.5) scale(1,1.04)" font-family="'Liberation Sans', sans-serif" font-size="66.5" font-weight="bold" fill="#000">1550 cm</text><text transform="translate(1695.8,293.6) scale(0.77,1.04)" font-family="'Liberation Sans', sans-serif" font-size="43" fill="#000">−</text><text transform="translate(1712.5,292.8) scale(1,1.04)" font-family="'Liberation Sans', sans-serif" font-size="43" fill="#000">1</text>
<text transform="translate(1742.2,339.8) scale(1,1.04)" font-family="'Liberation Sans', sans-serif" font-size="66.5" font-weight="bold" fill="#000">1425 cm</text><text transform="translate(2003.0,301.9) scale(0.77,1.04)" font-family="'Liberation Sans', sans-serif" font-size="43" fill="#000">−</text><text transform="translate(2019.7,301.1) scale(1,1.04)" font-family="'Liberation Sans', sans-serif" font-size="43" fill="#000">1</text>
<text transform="translate(2076.0,244.4) scale(1,1.04)" font-family="'Liberation Sans', sans-serif" font-size="66.5" font-weight="bold" fill="#000">1243 cm</text><text transform="translate(2338.2,207.0) scale(0.77,1.04)" font-family="'Liberation Sans', sans-serif" font-size="43" fill="#000">−</text><text transform="translate(2354.6,206.2) scale(1,1.04)" font-family="'Liberation Sans', sans-serif" font-size="43" fill="#000">1</text>
<text transform="translate(2190.0,556.9) scale(1,1.04)" font-family="'Liberation Sans', sans-serif" font-size="69.5" fill="#000">45 min</text>
<text transform="translate(2186.0,726.5) scale(1,1.04)" font-family="'Liberation Sans', sans-serif" font-size="69.5" fill="#000">35 min</text>
<text transform="translate(2178.6,916.3) scale(1,1.04)" font-family="'Liberation Sans', sans-serif" font-size="69.5" fill="#000">25 min</text>
<text transform="translate(2182.1,1178.1) scale(1,1.04)" font-family="'Liberation Sans', sans-serif" font-size="69.5" fill="#000">15 min</text>
<text transform="translate(2197.3,1341.6) scale(1,1.04)" font-family="'Liberation Sans', sans-serif" font-size="69.5" fill="#000">5 min</text>
<text transform="translate(886,1927.4) scale(1,1.04)" font-family="'Liberation Sans', sans-serif" font-size="90" fill="#000">Wavenumber (cm</text>
<text transform="translate(1594.9,1878.1) scale(0.72,1.04)" font-family="'Liberation Sans', sans-serif" font-size="42.5" fill="#000">−</text><text transform="translate(1611.3,1877.3) scale(1,1.04)" font-family="'Liberation Sans', sans-serif" font-size="42.5" fill="#000">1</text>
<text transform="translate(1641.5,1927.4) scale(1,1.04)" font-family="'Liberation Sans', sans-serif" font-size="90" fill="#000">)</text>
<text transform="translate(120.7,1294) rotate(-90) scale(1,1.04)" font-family="'Liberation Sans', sans-serif" font-size="90" fill="#000">Absorbance (a.u.)</text>
</svg></body></html>
